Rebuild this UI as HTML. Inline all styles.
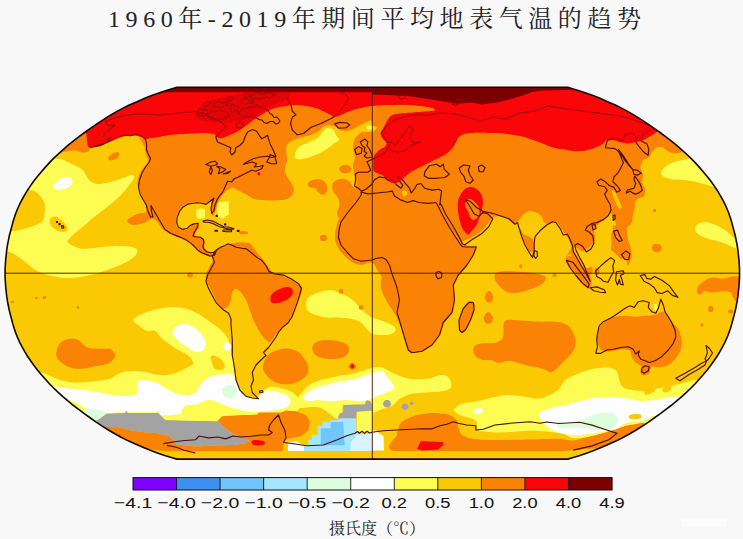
<!DOCTYPE html>
<html><head><meta charset="utf-8"><title>1960年-2019年期间平均地表气温的趋势</title>
<style>html,body{margin:0;padding:0;background:#f8f8f8;}body{width:743px;height:539px;overflow:hidden;font-family:"Liberation Sans",sans-serif;}svg{display:block}</style>
</head><body>
<svg width="743" height="539" viewBox="0 0 743 539">
<rect width="743" height="539" fill="#f8f8f8"/>
<defs><clipPath id="globe"><path d="M567.8,87.3 L572.4,88.7 L579.1,90.7 L585.8,93.0 L593.0,95.6 L600.5,98.6 L608.1,101.9 L615.9,105.3 L623.0,108.9 L629.8,112.6 L636.2,116.4 L642.4,120.3 L648.4,124.3 L654.2,128.4 L660.0,132.5 L665.6,136.7 L671.1,140.9 L676.4,145.2 L681.5,149.6 L686.4,154.0 L691.0,158.4 L695.4,162.9 L699.4,167.4 L703.4,171.9 L707.2,176.5 L710.8,181.1 L714.0,185.6 L717.1,190.2 L719.9,194.8 L722.5,199.5 L724.9,204.1 L727.0,208.7 L728.8,213.3 L730.4,217.9 L731.8,222.5 L733.0,227.1 L734.2,231.7 L735.4,236.3 L736.3,240.9 L737.2,245.5 L737.9,250.2 L738.4,254.8 L738.9,259.4 L739.2,264.0 L739.5,268.6 L739.5,273.2 L739.5,277.8 L739.2,282.4 L738.9,287.0 L738.4,291.6 L737.9,296.2 L737.2,300.9 L736.3,305.5 L735.4,310.1 L734.2,314.7 L733.0,319.3 L731.8,323.9 L730.4,328.5 L728.8,333.1 L727.0,337.7 L724.9,342.3 L722.5,346.9 L719.9,351.6 L717.1,356.2 L714.0,360.8 L710.8,365.3 L707.2,369.9 L703.4,374.5 L699.4,379.0 L695.4,383.5 L691.0,388.0 L686.4,392.4 L681.5,396.8 L676.4,401.2 L671.1,405.5 L665.6,409.7 L660.0,413.9 L654.2,418.0 L648.4,422.1 L642.4,426.1 L636.2,430.0 L629.8,433.8 L623.0,437.5 L615.9,441.1 L608.1,444.5 L600.5,447.8 L593.0,450.8 L585.8,453.4 L579.1,455.7 L572.4,457.7 L567.8,459.1 L176.8,459.1 L172.2,457.7 L165.5,455.7 L158.8,453.4 L151.6,450.8 L144.1,447.8 L136.5,444.5 L128.7,441.1 L121.6,437.5 L114.8,433.8 L108.4,430.0 L102.2,426.1 L96.2,422.1 L90.4,418.0 L84.6,413.9 L79.0,409.7 L73.5,405.5 L68.2,401.2 L63.1,396.8 L58.2,392.4 L53.6,388.0 L49.2,383.5 L45.2,379.0 L41.2,374.5 L37.4,369.9 L33.8,365.3 L30.6,360.8 L27.5,356.2 L24.7,351.6 L22.1,346.9 L19.7,342.3 L17.6,337.7 L15.8,333.1 L14.2,328.5 L12.8,323.9 L11.6,319.3 L10.4,314.7 L9.2,310.1 L8.3,305.5 L7.4,300.9 L6.7,296.2 L6.2,291.6 L5.7,287.0 L5.4,282.4 L5.1,277.8 L5.1,273.2 L5.1,268.6 L5.4,264.0 L5.7,259.4 L6.2,254.8 L6.7,250.2 L7.4,245.5 L8.3,240.9 L9.2,236.3 L10.4,231.7 L11.6,227.1 L12.8,222.5 L14.2,217.9 L15.8,213.3 L17.6,208.7 L19.7,204.1 L22.1,199.5 L24.7,194.8 L27.5,190.2 L30.6,185.6 L33.8,181.1 L37.4,176.5 L41.2,171.9 L45.2,167.4 L49.2,162.9 L53.6,158.4 L58.2,154.0 L63.1,149.6 L68.2,145.2 L73.5,140.9 L79.0,136.7 L84.6,132.5 L90.4,128.4 L96.2,124.3 L102.2,120.3 L108.4,116.4 L114.8,112.6 L121.6,108.9 L128.7,105.3 L136.5,101.9 L144.1,98.6 L151.6,95.6 L158.8,93.0 L165.5,90.7 L172.2,88.7 L176.8,87.3Z"/></clipPath><clipPath id="arc"><use href="#arcticred"/></clipPath></defs>
<g clip-path="url(#globe)">
<rect x="0" y="80" width="743" height="390" fill="#fbc904"/>
<path d="M40.0,156.0C47.5,153.2 51.2,157.9 55.0,158.5C58.8,159.1 60.2,158.8 62.5,159.5C64.8,160.2 66.7,161.5 68.8,162.5C70.9,163.5 72.7,164.2 75.0,165.5C77.3,166.8 80.8,168.1 82.8,170.0C84.8,171.9 85.3,174.8 86.7,176.7C88.1,178.6 89.2,180.5 91.1,181.7C92.9,182.9 95.4,183.6 97.8,183.9C100.2,184.2 102.8,183.8 105.6,183.3C108.4,182.8 111.5,182.0 114.5,181.1C117.5,180.2 120.4,178.8 123.4,177.8C126.4,176.8 130.5,175.1 132.3,175.0C134.1,174.9 134.3,176.0 134.3,177.0C134.3,178.0 133.4,179.5 132.3,181.1C131.2,182.7 129.5,184.6 127.8,186.7C126.1,188.8 124.1,191.4 122.3,193.4C120.5,195.4 118.9,196.9 116.7,198.9C114.5,200.9 111.5,203.5 108.9,205.6C106.3,207.7 103.5,209.8 101.1,211.7C98.7,213.5 96.9,214.8 94.5,216.7C92.1,218.6 88.9,221.5 86.7,223.4C84.5,225.3 83.0,226.3 81.1,227.9C79.1,229.5 76.8,231.3 75.0,233.0C73.2,234.7 71.2,236.5 70.0,238.0C68.8,239.5 66.9,240.6 67.5,242.0C68.1,243.4 71.3,245.2 73.8,246.3C76.3,247.4 79.0,248.5 82.5,248.8C86.0,249.1 90.4,248.4 95.0,248.0C99.6,247.6 104.6,246.6 110.0,246.3C115.4,246.0 123.1,245.9 127.5,246.3C131.9,246.8 134.8,247.7 136.3,249.0C137.8,250.3 137.6,252.2 136.5,254.0C135.4,255.8 132.8,258.2 130.0,260.0C127.2,261.8 123.8,263.3 120.0,265.0C116.2,266.7 111.7,268.5 107.5,270.0C103.3,271.5 99.6,272.6 95.0,273.8C90.4,275.0 85.0,276.3 80.0,277.0C75.0,277.7 70.0,278.2 65.0,278.0C60.0,277.8 54.6,276.6 50.0,275.5C45.4,274.4 41.2,273.2 37.5,271.3C33.8,269.4 30.8,266.3 27.5,263.8C24.2,261.3 20.8,258.4 17.5,256.3C14.2,254.2 11.8,252.9 7.5,251.3C3.2,249.8 -5.4,255.6 -8.0,247.0C-10.6,238.4 -11.0,212.0 -8.0,200.0C-5.0,188.0 2.0,182.3 10.0,175.0C18.0,167.7 32.5,158.8 40.0,156.0Z" fill="#fcfc52"/>
<path d="M661.8,171.3C662.4,169.9 663.7,167.8 665.6,166.3C667.5,164.8 670.1,163.6 673.0,162.5C675.9,161.4 679.8,160.7 683.0,160.0C686.2,159.3 688.3,158.5 692.0,158.5C695.7,158.5 701.2,155.6 705.0,160.0C708.8,164.4 715.3,181.0 715.0,185.0C714.7,189.0 706.7,184.4 703.0,183.8C699.3,183.2 696.3,181.9 693.0,181.3C689.7,180.7 686.3,180.3 683.0,180.0C679.7,179.7 675.9,179.9 673.0,179.5C670.1,179.1 667.5,178.2 665.6,177.5C663.7,176.8 662.4,176.0 661.8,175.0C661.2,174.0 661.2,172.8 661.8,171.3Z" fill="#fcfc52"/>
<path d="M695.2,230.0C695.0,228.1 696.0,225.1 698.2,223.8C700.4,222.6 704.5,221.9 708.2,222.5C712.0,223.1 717.0,225.4 720.7,227.5C724.5,229.6 727.2,231.9 730.7,235.0C734.2,238.1 739.6,243.2 742.0,246.0C744.4,248.8 747.3,252.2 745.0,252.0C742.7,251.8 732.7,246.8 728.2,245.0C723.7,243.2 721.5,242.3 718.2,241.3C714.9,240.3 711.3,239.9 708.2,238.8C705.1,237.8 701.6,236.5 699.4,235.0C697.2,233.5 695.4,231.9 695.2,230.0Z" fill="#fcfc52"/>
<path d="M294.8,157.5C294.2,156.1 295.2,153.2 296.0,151.3C296.8,149.4 297.7,147.8 299.8,146.3C301.9,144.8 305.4,144.0 308.5,142.5C311.6,141.0 316.1,139.4 318.5,137.5C320.9,135.6 321.5,132.9 323.0,131.3C324.5,129.7 325.6,128.2 327.3,128.0C329.1,127.8 332.1,128.8 333.5,130.0C334.9,131.2 335.1,133.3 336.0,135.0C336.9,136.7 339.4,138.5 339.0,140.0C338.6,141.5 335.4,142.3 333.5,143.8C331.6,145.3 329.8,147.1 327.3,148.8C324.8,150.5 321.6,152.4 318.5,153.8C315.4,155.2 311.6,156.6 308.5,157.5C305.4,158.4 302.1,159.5 299.8,159.5C297.5,159.5 295.4,158.9 294.8,157.5Z" fill="#fcfc52"/>
<path d="M196.3,210.0 L200.0,208.5 L205.0,209.0 L205.0,218.0 L199.0,219.0 L196.3,217.0Z" fill="#fcfc52"/>
<path d="M216.5,202.5 L228.8,201.3 L228.8,214.5 L222.5,218.8 L217.5,216.3Z" fill="#fcfc52"/>
<path d="M306.0,305.0C306.0,302.7 306.4,299.6 308.5,297.5C310.6,295.4 314.8,293.8 318.5,292.5C322.2,291.2 327.2,289.8 331.0,290.0C334.8,290.2 337.7,292.3 341.0,293.8C344.3,295.3 348.1,296.7 351.0,298.8C353.9,300.9 356.0,303.8 358.5,306.3C361.0,308.8 363.8,311.9 366.0,313.8C368.2,315.7 369.8,316.5 372.0,317.5C374.2,318.5 376.6,318.9 379.5,320.0C382.4,321.1 386.8,322.3 389.5,323.8C392.2,325.3 395.4,327.1 395.8,328.8C396.2,330.5 394.3,332.8 392.0,333.8C389.7,334.8 385.3,335.1 382.0,335.0C378.7,334.9 374.7,334.7 372.0,333.5C369.3,332.3 367.8,329.8 366.0,328.0C364.2,326.2 363.5,324.0 361.0,322.5C358.5,321.0 354.8,319.6 351.0,318.8C347.2,318.0 342.7,317.7 338.5,317.5C334.3,317.3 329.8,317.9 326.0,317.5C322.2,317.1 318.9,316.0 316.0,315.0C313.1,314.0 310.2,313.0 308.5,311.3C306.8,309.6 306.0,307.3 306.0,305.0Z" fill="#fcfc52"/>
<path d="M133.3,320.0C133.9,318.2 138.4,315.9 141.7,314.2C145.0,312.5 149.1,311.1 153.3,310.0C157.5,308.9 162.2,307.9 166.7,307.5C171.1,307.1 176.1,307.1 180.0,307.5C183.9,307.9 186.7,308.8 190.0,310.0C193.3,311.2 196.7,313.1 200.0,315.0C203.3,316.9 206.7,319.3 210.0,321.7C213.3,324.1 217.2,326.7 220.0,329.2C222.8,331.7 225.0,334.1 226.7,336.7C228.4,339.3 229.2,341.8 230.0,345.0C230.8,348.2 231.0,352.5 231.5,356.0C232.0,359.5 232.6,362.7 233.0,366.0C233.4,369.3 235.3,373.7 234.0,376.0C232.7,378.3 229.8,379.7 225.0,380.0C220.2,380.3 210.3,379.2 205.0,378.0C199.7,376.8 195.5,373.8 193.0,372.5C190.5,371.2 189.9,371.2 190.0,370.0C190.1,368.8 193.0,366.8 193.3,365.0C193.6,363.2 192.8,361.0 191.7,359.2C190.6,357.4 188.9,355.7 186.7,354.2C184.5,352.7 181.4,351.8 178.3,350.0C175.2,348.2 171.4,345.5 168.3,343.3C165.2,341.1 162.2,338.8 160.0,336.7C157.8,334.6 157.2,331.8 155.0,330.8C152.8,329.8 149.5,331.8 146.7,330.8C143.9,329.8 140.5,326.8 138.3,325.0C136.1,323.2 132.7,321.8 133.3,320.0Z" fill="#fcfc52"/>
<path d="M40.0,374.0C38.3,369.0 54.2,378.6 60.0,380.0C65.8,381.4 69.2,382.3 75.0,382.5C80.8,382.7 89.2,381.9 95.0,381.3C100.8,380.7 105.8,380.2 110.0,378.8C114.2,377.4 116.5,374.3 120.0,373.0C123.5,371.7 127.2,371.2 131.3,371.0C135.4,370.8 140.1,371.4 144.5,372.0C148.9,372.6 153.6,374.3 157.7,374.8C161.8,375.3 165.2,375.4 169.0,374.8C172.8,374.2 176.9,372.4 180.3,371.0C183.8,369.6 186.4,367.8 189.7,366.3C193.0,364.8 195.8,363.1 200.0,362.0C204.2,360.9 209.7,360.7 215.0,360.0C220.3,359.3 228.8,356.3 232.0,358.0C235.2,359.7 233.2,366.2 234.0,370.0C234.8,373.8 235.3,377.7 236.5,381.0C237.7,384.3 239.2,387.5 241.0,390.0C242.8,392.5 244.5,394.7 247.0,396.0C249.5,397.3 253.5,398.7 256.0,398.0C258.5,397.3 259.7,393.8 262.0,392.0C264.3,390.2 266.7,387.6 270.0,387.0C273.3,386.4 278.3,387.7 282.0,388.5C285.7,389.3 289.3,390.4 292.0,392.0C294.7,393.6 296.7,395.7 298.0,398.0C299.3,400.3 300.3,403.7 300.0,406.0C299.7,408.3 298.3,410.7 296.0,412.0C293.7,413.3 292.2,413.7 286.0,414.0C279.8,414.3 265.6,413.6 258.5,414.0C251.4,414.4 249.5,415.8 243.5,416.5C237.5,417.2 226.7,416.9 222.3,418.0C217.9,419.1 223.4,422.2 217.3,423.0C211.2,423.8 194.7,423.2 186.0,423.0C177.3,422.8 169.3,422.8 165.0,422.0C160.7,421.2 161.7,419.2 160.0,418.0C158.3,416.8 160.8,415.5 155.0,415.0C149.2,414.5 133.1,414.9 125.0,415.0C116.9,415.1 111.1,414.5 106.3,415.8C101.5,417.1 102.3,424.0 96.3,423.0C90.2,422.0 79.4,418.2 70.0,410.0C60.6,401.8 41.7,379.0 40.0,374.0Z" fill="#fcfc52"/>
<path d="M292.0,404.0C292.0,401.8 297.3,398.0 300.0,395.0C302.7,392.0 305.0,388.3 308.0,386.0C311.0,383.7 314.3,382.3 318.0,381.0C321.7,379.7 326.2,378.9 330.0,378.0C333.8,377.1 336.7,376.3 341.0,375.5C345.3,374.7 350.8,374.2 356.0,373.0C361.2,371.8 367.7,368.9 372.0,368.0C376.3,367.1 378.2,366.5 382.0,367.5C385.8,368.5 389.9,371.9 394.5,373.8C399.1,375.7 404.1,378.0 409.5,378.8C414.9,379.6 421.6,379.4 427.0,378.8C432.4,378.2 438.2,375.0 442.0,375.0C445.8,375.0 448.0,376.7 449.5,378.8C451.0,380.9 452.1,385.4 450.8,387.5C449.6,389.6 446.0,390.5 442.0,391.3C438.0,392.1 432.0,392.1 427.0,392.5C422.0,392.9 416.2,393.0 412.0,393.8C407.8,394.6 404.5,396.2 402.0,397.5C399.5,398.8 398.7,399.9 397.0,401.3C395.3,402.7 394.8,404.6 392.0,406.0C389.2,407.4 383.3,408.8 380.0,410.0C376.7,411.2 375.7,412.7 372.0,413.0C368.3,413.3 361.7,413.2 358.0,412.0C354.3,410.8 352.5,407.0 350.0,406.0C347.5,405.0 344.3,404.7 343.0,406.0C341.7,407.3 343.0,411.8 342.0,414.0C341.0,416.2 339.0,419.0 337.0,419.0C335.0,419.0 332.7,415.8 330.0,414.0C327.3,412.2 324.2,409.2 321.0,408.0C317.8,406.8 314.5,407.0 311.0,407.0C307.5,407.0 303.2,408.5 300.0,408.0C296.8,407.5 292.0,406.2 292.0,404.0Z" fill="#fcfc52"/>
<path d="M454.5,408.8C455.8,407.6 458.2,405.1 462.0,403.8C465.8,402.6 472.0,402.4 477.0,401.3C482.0,400.2 487.0,398.6 492.0,397.5C497.0,396.4 502.0,395.2 507.0,395.0C512.0,394.8 517.0,395.7 522.0,396.3C527.0,396.9 532.8,398.8 537.0,398.8C541.2,398.8 543.5,397.8 547.0,396.3C550.5,394.8 554.9,392.7 558.0,390.0C561.1,387.3 562.2,382.7 565.5,380.0C568.8,377.3 573.4,375.7 578.0,373.8C582.6,371.9 588.0,369.9 593.0,368.8C598.0,367.8 604.0,367.1 608.0,367.5C612.0,367.9 614.9,369.2 616.8,371.3C618.7,373.4 618.3,377.3 619.3,380.0C620.3,382.7 620.7,385.8 623.0,387.5C625.3,389.2 629.2,389.4 633.0,390.0C636.8,390.6 641.1,391.6 645.6,391.3C650.1,391.0 654.3,389.2 660.0,388.0C665.7,386.8 673.3,385.3 680.0,384.0C686.7,382.7 695.7,378.7 700.0,380.0C704.3,381.3 707.7,388.0 706.0,392.0C704.3,396.0 696.3,399.7 690.0,404.0C683.7,408.3 674.7,414.7 668.0,418.0C661.3,421.3 654.5,422.8 650.0,424.0C645.5,425.2 645.1,424.8 641.0,425.5C636.9,426.2 629.8,427.1 625.6,428.0C621.4,428.9 619.4,429.9 615.6,431.0C611.8,432.1 607.6,433.5 603.0,434.5C598.4,435.5 593.0,436.4 588.0,437.0C583.0,437.6 577.0,438.5 573.0,438.0C569.0,437.5 567.9,435.1 563.8,434.0C559.7,432.9 553.6,432.2 548.3,431.7C542.9,431.2 537.2,430.8 531.7,430.8C526.2,430.8 520.6,431.4 515.0,431.7C509.4,432.0 503.0,432.5 498.3,432.5C493.6,432.5 490.0,432.1 486.7,431.7C483.4,431.3 480.0,431.5 478.3,430.0C476.6,428.5 477.5,424.3 476.7,422.5C475.9,420.7 475.2,420.2 473.3,419.2C471.4,418.2 467.5,417.5 465.0,416.7C462.5,415.9 460.1,415.2 458.3,414.2C456.5,413.2 454.8,411.7 454.2,410.8C453.6,409.9 453.2,410.0 454.5,408.8Z" fill="#fcfc52"/>
<path d="M15.0,189.0C20.4,187.3 24.2,189.6 27.5,190.0C30.8,190.4 32.7,190.1 35.0,191.3C37.3,192.6 39.6,195.2 41.3,197.5C43.0,199.8 44.5,202.2 45.0,205.0C45.5,207.8 44.9,211.3 44.5,214.0C44.1,216.7 44.5,219.2 42.5,221.3C40.5,223.4 36.2,224.9 32.5,226.3C28.8,227.8 23.9,229.1 20.0,230.0C16.1,230.9 13.0,231.0 8.8,231.5C4.6,232.0 -2.7,238.2 -5.0,233.0C-7.3,227.8 -8.3,207.3 -5.0,200.0C-1.7,192.7 9.6,190.7 15.0,189.0Z" fill="#fbc904"/>
<path d="M50.0,219.5C50.7,218.1 52.8,216.6 54.5,216.5C56.2,216.4 58.1,217.6 60.0,219.0C61.9,220.4 64.8,223.2 66.0,225.0C67.2,226.8 68.1,228.8 67.5,230.0C66.9,231.2 64.5,232.1 62.5,232.0C60.5,231.9 57.5,230.7 55.5,229.5C53.5,228.3 51.4,226.7 50.5,225.0C49.6,223.3 49.3,220.9 50.0,219.5Z" fill="#fbc904"/>
<path d="M210.8,356.7C211.4,355.7 213.2,355.2 215.0,355.8C216.8,356.4 220.0,358.2 221.7,360.0C223.4,361.8 225.3,365.0 225.0,366.7C224.7,368.4 221.8,369.7 220.0,370.0C218.2,370.3 215.6,369.7 214.2,368.3C212.8,366.9 212.3,363.6 211.7,361.7C211.1,359.8 210.2,357.7 210.8,356.7Z" fill="#fbc904"/>
<path d="M53.8,186.3C53.8,184.9 54.6,182.8 56.3,181.3C58.0,179.8 61.5,178.1 63.8,177.5C66.1,176.9 68.5,176.9 70.0,177.5C71.5,178.1 72.5,179.8 72.5,181.3C72.5,182.8 71.7,184.9 70.0,186.3C68.3,187.7 64.8,189.0 62.5,189.5C60.2,190.0 57.8,190.0 56.3,189.5C54.8,189.0 53.8,187.7 53.8,186.3Z" fill="#fefefe"/>
<path d="M172.5,333.3C171.9,331.1 173.5,329.0 175.0,327.5C176.5,326.0 179.2,324.6 181.7,324.2C184.2,323.8 187.2,323.9 190.0,325.0C192.8,326.1 195.9,328.6 198.3,330.8C200.7,333.0 202.9,335.9 204.2,338.3C205.4,340.7 206.1,342.9 205.8,345.0C205.5,347.1 204.3,349.7 202.5,350.8C200.7,351.9 197.6,352.4 195.0,351.7C192.4,351.0 189.5,348.5 186.7,346.7C183.9,344.9 180.7,343.0 178.3,340.8C175.9,338.6 173.1,335.5 172.5,333.3Z" fill="#fefefe"/>
<path d="M223.5,344.0C224.1,343.1 225.8,342.3 227.0,342.5C228.2,342.7 230.4,343.8 231.0,345.0C231.6,346.2 231.2,348.6 230.5,349.5C229.8,350.4 227.7,350.8 226.5,350.5C225.3,350.2 224.0,349.1 223.5,348.0C223.0,346.9 222.9,344.9 223.5,344.0Z" fill="#fefefe"/>
<path d="M45.0,387.5C43.3,384.8 63.3,388.4 70.0,388.8C76.7,389.2 80.0,389.4 85.0,390.0C90.0,390.6 95.4,391.7 100.0,392.5C104.6,393.3 108.3,394.4 112.5,395.0C116.7,395.6 121.9,395.9 125.0,396.0C128.1,396.1 129.3,396.0 131.3,395.5C133.3,395.0 135.9,395.4 137.0,393.0C138.1,390.6 136.0,383.5 137.9,381.4C139.8,379.3 145.0,380.1 148.3,380.4C151.6,380.7 154.6,381.9 157.7,383.3C160.8,384.7 164.0,387.2 167.1,388.9C170.2,390.6 173.3,392.5 176.5,393.6C179.7,394.7 182.8,395.6 186.0,395.5C189.2,395.4 193.2,394.1 195.4,392.7C197.6,391.3 197.8,388.9 199.1,387.0C200.3,385.1 201.0,383.1 202.9,381.4C204.8,379.7 207.6,377.8 210.4,376.7C213.2,375.6 216.4,375.3 219.9,374.8C223.4,374.3 228.5,372.8 231.2,373.8C233.9,374.8 234.5,378.3 236.0,381.0C237.5,383.7 238.2,387.4 240.0,390.0C241.8,392.6 244.3,395.1 247.0,396.5C249.7,397.9 253.5,399.0 256.0,398.5C258.5,398.0 259.9,394.8 262.0,393.5C264.1,392.2 265.3,390.6 268.5,390.5C271.7,390.4 277.7,391.9 281.0,393.0C284.3,394.1 286.9,395.2 288.5,396.8C290.1,398.4 290.8,400.8 290.5,402.5C290.2,404.2 288.6,405.9 287.0,407.0C285.4,408.1 284.5,408.3 281.0,409.0C277.5,409.7 270.9,410.8 266.0,411.3C261.1,411.8 255.8,412.1 251.9,412.0C248.0,411.9 245.6,411.2 242.5,410.5C239.4,409.8 235.9,408.8 233.1,408.0C230.3,407.2 228.0,406.4 225.5,405.5C223.0,404.6 220.5,403.5 218.0,402.6C215.5,401.7 212.6,400.3 210.4,400.0C208.2,399.7 207.3,400.2 204.8,401.0C202.3,401.8 198.5,403.8 195.4,404.6C192.3,405.4 188.2,404.8 186.0,405.6C183.8,406.4 183.2,408.2 182.2,409.6C181.2,411.0 183.6,413.1 180.0,414.0C176.4,414.9 164.2,415.6 160.5,415.3C156.8,415.1 163.6,413.0 157.7,412.5C151.8,412.0 133.6,412.3 125.0,412.5C116.4,412.7 110.8,412.4 106.3,413.5C101.8,414.6 102.4,420.4 98.0,419.0C93.6,417.6 88.8,410.2 80.0,405.0C71.2,399.8 46.7,390.2 45.0,387.5Z" fill="#fefefe"/>
<path d="M308.5,401.3C306.0,400.9 303.1,399.4 303.5,397.5C303.9,395.6 307.2,392.1 311.0,390.0C314.8,387.9 321.0,386.4 326.0,385.0C331.0,383.6 336.0,382.3 341.0,381.3C346.0,380.3 350.8,380.2 356.0,378.8C361.2,377.4 367.7,374.2 372.0,373.0C376.3,371.8 379.1,370.1 382.0,371.3C384.9,372.5 387.4,377.3 389.5,380.0C391.6,382.7 394.9,385.4 394.5,387.5C394.1,389.6 389.9,391.0 387.0,392.5C384.1,394.0 379.5,395.2 377.0,396.3C374.5,397.4 374.7,398.2 372.0,399.0C369.3,399.8 365.3,401.1 361.0,401.3C356.7,401.5 351.0,400.0 346.0,400.0C341.0,400.0 335.6,401.3 331.0,401.3C326.4,401.3 322.2,400.0 318.5,400.0C314.8,400.0 311.0,401.7 308.5,401.3Z" fill="#fefefe"/>
<path d="M474.2,410.8C474.3,409.8 476.1,408.6 477.5,408.3C478.9,408.0 481.8,408.5 482.5,409.2C483.2,409.9 482.7,411.7 481.7,412.5C480.7,413.3 477.9,414.5 476.7,414.2C475.4,413.9 474.1,411.8 474.2,410.8Z" fill="#fefefe"/>
<path d="M372.0,430.0 L377.0,431.0 L382.0,436.0 L382.0,450.0 L372.0,450.0Z" fill="#fefefe"/>
<path d="M540.0,412.5C541.2,410.7 545.5,410.2 548.3,409.2C551.1,408.2 554.1,407.3 556.7,406.7C559.3,406.1 561.5,406.1 563.8,405.6C566.1,405.1 567.3,404.4 570.5,403.5C573.7,402.6 578.4,401.5 583.0,400.5C587.6,399.5 593.0,398.2 598.0,397.6C603.0,397.1 608.0,397.1 613.0,397.2C618.0,397.3 623.4,397.9 628.0,398.5C632.6,399.1 636.0,400.8 640.6,401.0C645.2,401.2 651.0,400.4 655.6,399.8C660.2,399.2 663.9,397.9 668.1,397.3C672.3,396.7 676.3,396.7 680.6,396.0C684.9,395.3 692.4,391.7 694.0,393.0C695.6,394.3 694.3,399.8 690.0,404.0C685.7,408.2 673.9,416.0 668.0,418.0C662.1,420.0 658.6,415.5 654.4,416.0C650.2,416.5 647.0,419.8 643.0,420.8C639.0,421.8 633.9,421.2 630.6,421.8C627.3,422.4 625.5,423.1 623.0,424.3C620.5,425.6 618.9,428.1 615.6,429.3C612.3,430.6 607.6,431.0 603.0,431.8C598.4,432.6 593.0,433.7 588.0,434.3C583.0,434.9 578.0,435.6 573.0,435.3C568.0,435.0 562.2,433.7 558.0,432.3C553.8,430.9 550.8,429.1 548.0,427.0C545.2,424.9 542.3,422.4 541.0,420.0C539.7,417.6 538.8,414.3 540.0,412.5Z" fill="#fefefe"/>
<path d="M644.5,391.5C645.2,390.3 647.3,388.2 649.0,387.5C650.7,386.8 653.5,386.5 654.5,387.0C655.5,387.5 655.8,389.3 655.0,390.5C654.2,391.7 651.7,393.3 650.0,394.0C648.3,394.7 645.9,394.9 645.0,394.5C644.1,394.1 643.8,392.7 644.5,391.5Z" fill="#fbc904"/>
<path d="M662.0,390.0C662.0,388.9 664.5,386.8 666.0,386.0C667.5,385.2 670.2,384.9 671.0,385.5C671.8,386.1 671.8,388.3 671.0,389.5C670.2,390.7 667.5,392.4 666.0,392.5C664.5,392.6 662.0,391.1 662.0,390.0Z" fill="#fbc904"/>
<path d="M629.3,415.5C630.1,414.8 632.1,414.1 634.0,414.0C635.9,413.9 639.5,414.1 640.6,414.8C641.7,415.5 641.7,417.6 640.6,418.3C639.5,419.1 635.9,419.3 634.0,419.3C632.1,419.3 630.1,419.1 629.3,418.5C628.5,417.9 628.5,416.2 629.3,415.5Z" fill="#fbc904"/>
<path d="M84.0,411.5C84.1,409.6 89.4,408.8 92.5,408.8C95.6,408.8 99.6,410.1 102.5,411.3C105.4,412.6 108.3,414.8 110.0,416.3C111.7,417.8 114.2,419.6 112.5,420.5C110.8,421.4 103.4,421.5 100.0,421.5C96.6,421.5 94.7,422.2 92.0,420.5C89.3,418.8 83.9,413.4 84.0,411.5Z" fill="#dcfedc"/>
<path d="M221.8,389.9C222.4,387.8 227.0,385.6 229.3,385.1C231.7,384.6 234.7,385.7 235.9,387.0C237.2,388.3 237.3,391.0 236.8,392.7C236.3,394.4 235.0,396.6 233.1,397.4C231.2,398.2 227.4,398.6 225.5,397.4C223.6,396.1 221.2,391.9 221.8,389.9Z" fill="#dcfedc"/>
<path d="M558.0,421.5C558.8,420.6 560.5,422.5 563.0,422.8C565.5,423.1 569.7,424.1 573.0,423.5C576.3,422.9 579.7,420.9 583.0,419.5C586.3,418.1 589.2,416.2 593.0,415.0C596.8,413.8 601.8,412.5 605.6,412.5C609.4,412.5 613.5,413.5 615.6,415.0C617.7,416.5 618.9,419.1 618.1,421.3C617.3,423.5 614.0,426.8 610.6,428.2C607.2,429.6 602.6,429.8 598.0,429.8C593.4,429.8 587.7,428.4 583.0,428.0C578.3,427.6 574.2,427.5 570.0,427.5C565.8,427.5 560.0,429.0 558.0,428.0C556.0,427.0 557.2,422.4 558.0,421.5Z" fill="#dcfedc"/>
<path d="M356.7,411.3 L372.3,410.8 L372.3,433.2 L357.0,432.8Z" fill="#fcfc52"/>
<path d="M304.0,451.0 L304.0,445.0 L308.3,445.0 L308.3,440.0 L311.7,440.0 L311.7,435.0 L317.5,435.0 L317.5,425.8 L322.5,425.8 L322.5,421.7 L330.0,421.7 L330.0,420.0 L338.3,420.0 L340.0,418.0 L356.0,418.0 L356.7,432.8 L372.3,433.3 L373.0,451.0Z" fill="#a2e6ff"/>
<path d="M320.8,445.3 L320.8,428.3 L330.8,428.3 L330.8,421.9 L343.3,421.9 L344.2,440.0 L345.0,445.3Z" fill="#72c4fc"/>
<path d="M350.0,451.0 L351.0,442.0 L357.0,434.8 L372.3,433.5 L372.3,451.0Z" fill="#d9f4ff"/>
<path d="M288.0,451.0 L288.0,442.3 L296.7,441.5 L304.0,445.5 L304.0,451.0Z" fill="#fefefe"/>
<path d="M372.5,434.0 L378.0,433.0 L383.5,436.0 L384.0,450.5 L372.5,450.5Z" fill="#fefefe"/>
<path d="M56.0,156.0C56.3,158.1 60.1,153.3 62.0,152.5C63.9,151.7 65.3,151.6 67.5,151.3C69.7,151.0 72.5,150.3 75.0,150.5C77.5,150.7 80.2,152.4 82.5,152.5C84.8,152.6 87.5,152.2 88.8,151.3C90.0,150.4 90.0,148.9 90.0,147.0C90.0,145.1 88.2,143.2 88.5,140.0C88.8,136.8 92.8,131.0 92.0,128.0C91.2,125.0 89.3,120.0 84.0,122.0C78.7,124.0 64.7,134.3 60.0,140.0C55.3,145.7 55.7,153.9 56.0,156.0Z" fill="#fa8205"/>
<path d="M146.0,128.0C151.6,126.8 175.0,125.9 186.0,124.0C197.0,122.1 226.7,115.0 240.0,112.0C253.3,109.0 288.9,99.2 300.0,98.0C311.1,96.8 329.8,101.7 335.0,102.0C340.2,102.3 340.5,101.3 345.0,101.0C349.5,100.7 370.2,97.0 373.5,99.0C376.8,101.0 373.8,115.3 373.0,118.0C372.2,120.7 367.9,121.2 366.4,122.0C364.9,122.8 361.6,124.1 360.0,125.0C358.4,125.9 354.2,128.8 352.6,129.5C351.0,130.2 347.5,131.2 346.0,131.3C344.5,131.4 341.2,130.5 340.0,130.0C338.8,129.5 337.3,127.6 336.0,127.0C334.7,126.4 330.1,124.9 328.5,125.0C326.9,125.1 323.5,126.8 322.3,127.5C321.1,128.2 319.8,130.4 318.5,131.3C317.2,132.2 313.0,134.3 311.0,135.0C309.0,135.7 303.3,136.8 301.0,137.5C298.7,138.2 292.8,140.1 291.0,141.3C289.2,142.5 286.4,145.3 286.0,147.5C285.6,149.7 287.4,157.7 287.3,160.0C287.2,162.3 285.0,165.8 284.8,167.5C284.6,169.2 285.3,173.2 286.0,175.0C286.7,176.8 290.1,180.9 291.0,182.5C291.9,184.1 293.8,187.3 294.0,188.8C294.2,190.3 293.2,193.8 292.3,195.0C291.4,196.2 288.2,198.9 286.0,199.5C283.8,200.1 276.4,200.4 273.5,200.5C270.6,200.6 263.3,200.2 261.0,200.0C258.7,199.8 255.4,199.5 253.5,198.8C251.6,198.1 246.7,194.8 244.8,193.8C242.9,192.8 238.8,190.7 237.3,190.0C235.8,189.3 233.6,187.3 232.3,187.5C231.0,187.7 227.3,190.2 226.0,191.3C224.7,192.4 221.9,195.6 221.0,197.0C220.1,198.4 218.6,201.5 218.0,203.0C217.4,204.5 216.5,208.0 216.0,209.5C215.5,211.0 214.0,214.9 213.5,215.5C213.0,216.1 211.8,215.3 211.5,214.5C211.2,213.7 210.5,209.8 210.5,208.5C210.5,207.2 211.3,204.1 211.5,203.0C211.7,201.9 212.7,199.7 212.5,199.5C212.3,199.3 210.1,200.5 209.4,201.0C208.7,201.5 207.0,203.4 206.1,203.6C205.2,203.8 202.7,202.7 201.7,202.5C200.7,202.3 198.2,202.0 197.2,202.0C196.2,202.0 194.0,202.3 192.8,202.5C191.6,202.7 188.4,203.1 187.2,203.6C186.0,204.1 183.3,205.7 182.3,206.6C181.3,207.5 179.4,210.1 178.7,211.3C178.0,212.5 176.7,215.6 176.4,217.0C176.1,218.4 175.8,221.7 175.9,223.0C176.0,224.3 176.8,227.0 177.6,227.8C178.4,228.6 181.4,230.1 182.6,230.2C183.8,230.3 186.7,229.5 187.6,229.0C188.5,228.5 189.9,226.7 190.6,226.2C191.3,225.7 193.0,224.8 194.0,224.5C195.0,224.2 198.2,223.7 198.8,224.0C199.4,224.3 199.3,226.6 199.0,227.5C198.7,228.4 196.9,230.8 196.5,231.7C196.1,232.6 195.0,234.9 195.5,235.5C196.0,236.1 199.6,236.7 200.6,237.2C201.6,237.7 203.8,238.7 204.3,239.4C204.8,240.1 205.2,242.0 205.2,242.8C205.2,243.6 204.3,245.4 204.3,246.1C204.3,246.8 204.8,248.4 205.2,249.0C205.6,249.6 206.9,250.7 207.5,251.0C208.1,251.3 209.9,252.0 210.6,252.0C211.3,252.0 213.1,251.8 213.9,251.4C214.7,251.0 216.3,249.2 217.2,248.6C218.1,248.0 220.5,246.5 221.3,246.5C222.1,246.5 224.4,247.8 224.0,249.0C223.6,250.2 219.3,255.5 218.0,256.5C216.7,257.5 213.9,257.6 212.5,257.5C211.1,257.4 207.4,255.9 206.1,255.4C204.8,254.9 202.6,254.1 201.7,253.6C200.8,253.1 199.1,252.1 198.3,251.4C197.5,250.7 195.8,248.8 195.0,248.0C194.2,247.2 192.6,245.5 191.7,244.7C190.8,243.9 188.4,242.1 187.2,241.4C186.0,240.7 183.0,239.2 181.7,238.6C180.4,238.0 177.4,236.9 176.1,236.4C174.8,235.9 172.1,234.9 170.6,234.1C169.1,233.3 164.5,230.9 163.0,229.5C161.5,228.1 158.7,223.3 157.5,222.0C156.3,220.7 153.7,218.6 152.5,218.5C151.3,218.4 148.3,220.9 147.0,221.5C145.7,222.1 143.3,223.4 141.7,223.8C140.1,224.2 134.8,225.1 133.3,225.0C131.8,224.9 129.2,223.6 128.5,223.0C127.8,222.4 126.9,220.8 127.5,220.0C128.1,219.2 131.8,216.6 133.3,215.8C134.8,215.0 138.5,213.7 140.0,213.3C141.5,212.9 145.4,213.2 146.0,212.0C146.6,210.8 145.7,205.2 145.0,203.0C144.3,200.8 140.9,195.3 140.0,193.0C139.1,190.7 137.6,185.6 137.5,183.5C137.4,181.4 138.2,176.9 139.0,175.0C139.8,173.1 142.9,168.6 144.0,167.0C145.1,165.4 147.8,162.4 148.0,161.0C148.2,159.6 146.4,156.6 146.0,155.0C145.6,153.4 145.1,148.8 144.5,147.0C143.9,145.2 141.8,141.5 141.0,140.0C140.2,138.5 137.4,135.4 138.0,134.0C138.6,132.6 140.4,129.2 146.0,128.0Z" fill="#fa8205"/>
<path d="M372.0,99.0C375.3,96.1 392.5,98.8 400.0,99.0C407.5,99.2 427.8,98.8 436.0,101.0C444.2,103.2 460.2,114.8 470.0,118.0C479.8,121.2 509.5,125.4 520.0,128.0C530.5,130.6 550.7,138.4 560.0,140.0C569.3,141.6 593.0,142.6 600.0,142.0C607.0,141.4 615.0,135.4 620.0,135.0C625.0,134.6 639.4,138.8 643.0,138.8C646.6,138.8 649.0,135.9 650.5,135.0C652.0,134.1 654.5,132.4 655.5,131.3C656.5,130.2 657.3,125.3 659.0,126.0C660.7,126.7 667.2,134.2 670.0,137.0C672.8,139.8 682.3,148.0 683.0,150.0C683.7,152.0 677.4,153.6 675.6,153.8C673.9,154.0 669.5,152.0 668.0,151.3C666.5,150.6 664.3,147.9 663.0,147.5C661.7,147.1 658.1,146.9 656.8,147.5C655.5,148.1 652.7,151.3 651.8,152.5C650.9,153.7 650.3,156.6 649.3,157.5C648.3,158.4 644.0,158.8 643.0,160.0C642.0,161.2 640.5,165.8 640.5,167.5C640.5,169.2 642.8,173.2 643.0,175.0C643.2,176.8 641.8,180.9 642.0,182.5C642.2,184.1 644.7,187.4 645.0,189.0C645.3,190.6 644.8,194.9 644.2,195.9C643.6,196.9 640.5,197.2 639.5,197.8C638.5,198.4 636.3,199.5 635.7,200.7C635.1,201.9 635.0,206.4 634.7,208.2C634.4,210.0 633.1,214.3 632.8,216.0C632.4,217.7 632.4,221.5 631.7,223.0C631.0,224.5 627.4,226.6 627.0,228.5C626.6,230.4 627.6,237.2 628.0,239.6C628.4,242.0 630.3,247.0 630.7,249.0C631.1,251.0 631.8,254.6 631.5,256.6C631.2,258.6 628.6,265.6 628.0,266.0C627.4,266.4 626.9,261.3 626.0,260.4C625.1,259.5 621.6,259.4 620.3,258.5C619.0,257.6 615.7,253.9 614.6,252.8C613.5,251.7 611.2,250.8 611.0,249.0C610.8,247.2 612.6,240.3 612.8,237.7C613.0,235.1 612.4,227.9 612.8,226.4C613.2,224.9 616.1,225.9 616.2,225.0C616.3,224.1 614.6,220.3 614.0,219.0C613.4,217.7 612.0,214.1 611.0,214.0C610.0,213.9 606.7,216.5 605.2,217.8C603.7,219.1 599.1,223.6 597.8,225.0C596.5,226.4 594.3,228.5 594.0,230.0C593.7,231.5 595.3,235.9 595.3,237.5C595.3,239.1 594.7,242.5 594.0,243.8C593.3,245.1 590.2,248.0 589.0,248.8C587.8,249.6 583.8,251.0 584.0,251.0C584.2,251.0 589.3,249.7 590.5,248.8C591.7,247.9 594.9,242.7 594.0,243.0C593.1,243.3 585.2,250.8 583.0,251.3C580.8,251.8 576.5,246.7 575.0,247.0C573.5,247.3 571.3,252.9 570.3,254.0C569.2,255.1 565.7,256.1 566.0,256.5C566.3,256.9 571.3,256.4 573.0,257.5C574.7,258.6 578.8,264.4 580.5,266.3C582.2,268.2 586.7,271.9 588.0,273.8C589.3,275.7 591.6,281.0 591.8,282.6C592.0,284.2 590.3,287.5 589.3,287.6C588.3,287.7 584.6,285.3 583.0,283.8C581.4,282.3 577.1,276.9 575.5,275.0C573.9,273.1 570.5,269.1 569.3,267.5C568.1,265.9 565.7,262.9 565.5,261.3C565.3,259.7 567.3,255.6 568.0,254.0C568.7,252.4 571.4,249.1 571.5,247.5C571.6,245.9 569.9,241.8 569.0,240.0C568.1,238.2 565.2,234.2 564.0,232.5C562.8,230.8 560.2,226.3 559.0,225.0C557.8,223.7 555.2,221.4 554.0,221.3C552.8,221.2 550.2,223.7 549.0,223.8C547.8,223.9 544.9,223.4 544.0,222.5C543.1,221.6 542.4,217.5 541.5,216.3C540.6,215.1 538.0,213.1 536.5,212.5C535.0,211.9 530.6,211.0 529.0,211.3C527.4,211.6 524.0,214.0 522.8,215.0C521.6,216.0 520.0,219.0 519.0,220.0C518.0,221.0 515.2,223.8 514.0,223.8C512.8,223.8 510.5,220.9 509.0,220.0C507.5,219.1 503.4,216.6 501.5,216.3C499.6,216.0 494.4,216.6 492.8,217.5C491.2,218.4 489.1,222.2 487.8,223.8C486.5,225.4 483.4,229.7 481.5,231.3C479.6,232.9 473.8,236.2 471.5,237.5C469.2,238.8 461.9,241.5 461.5,242.5C461.1,243.5 466.6,245.6 468.3,246.0C470.1,246.4 475.8,245.1 476.5,246.0C477.2,246.9 475.1,251.8 474.0,254.0C472.9,256.2 469.2,262.1 467.5,264.5C465.8,266.9 460.6,272.1 459.0,274.5C457.4,276.9 454.5,282.0 454.0,285.0C453.5,288.0 455.2,296.8 455.0,300.0C454.8,303.2 453.8,309.9 452.5,312.5C451.2,315.1 445.5,319.9 444.0,322.5C442.5,325.1 441.3,332.4 440.0,335.0C438.7,337.6 434.6,343.1 432.5,345.0C430.4,346.9 424.4,350.6 422.0,351.5C419.6,352.4 413.7,353.2 412.0,353.0C410.3,352.8 408.4,351.8 407.5,350.0C406.6,348.2 404.9,340.4 404.0,337.5C403.1,334.6 401.0,327.6 400.0,325.0C399.0,322.4 396.8,317.3 395.5,315.0C394.2,312.7 390.4,307.3 389.0,305.0C387.6,302.7 384.5,297.3 383.5,295.0C382.5,292.7 380.7,287.1 380.5,285.0C380.3,282.9 381.8,278.6 381.5,277.0C381.2,275.4 379.1,272.7 378.0,271.0C376.9,269.3 374.0,263.2 372.0,262.5C370.0,261.8 363.3,265.0 361.0,265.0C358.7,265.0 354.2,263.4 352.3,262.3C350.4,261.2 346.4,257.6 344.8,256.0C343.2,254.4 339.6,250.4 338.5,248.5C337.4,246.6 335.4,242.2 335.0,240.0C334.6,237.8 335.1,232.3 335.5,230.0C335.9,227.7 337.6,222.1 338.5,220.0C339.4,217.9 342.0,213.9 343.0,212.0C344.0,210.1 346.9,205.3 347.3,203.5C347.7,201.7 346.1,198.1 346.5,196.5C346.9,194.9 350.1,191.6 350.5,190.0C350.9,188.4 349.2,182.6 349.8,182.5C350.4,182.4 354.7,189.2 355.5,189.0C356.3,188.8 356.7,182.6 356.5,181.0C356.3,179.4 354.4,176.9 354.0,175.0C353.6,173.1 352.9,167.0 353.0,165.0C353.1,163.0 354.8,159.5 354.8,157.5C354.8,155.5 353.0,149.7 353.0,147.5C353.0,145.3 353.9,140.6 354.8,138.8C355.7,137.1 359.5,133.3 361.0,132.5C362.5,131.7 366.5,132.2 368.0,132.0C369.5,131.8 372.9,131.6 374.0,131.0C375.1,130.4 377.2,127.8 377.0,127.0C376.8,126.2 372.6,127.3 372.0,124.0C371.4,120.7 368.7,101.9 372.0,99.0Z" fill="#fa8205"/>
<path d="M521.0,229.0C521.5,229.5 521.9,232.9 523.3,234.2C524.7,235.5 527.5,235.7 529.2,236.7C530.9,237.7 532.5,238.3 533.3,240.0C534.1,241.7 534.1,244.7 533.9,246.7C533.7,248.7 533.0,251.3 532.2,252.0C531.4,252.7 530.4,252.4 529.2,251.0C528.1,249.6 526.4,245.6 525.3,243.5C524.2,241.4 523.4,240.4 522.5,238.3C521.6,236.2 520.2,232.6 520.0,231.0C519.8,229.4 520.5,228.5 521.0,229.0Z" fill="#fa8205"/>
<path d="M572.0,246.0C572.4,246.3 573.7,250.3 574.5,252.0C575.3,253.7 577.0,256.8 578.0,258.5C579.0,260.2 580.9,263.7 582.0,265.0C583.1,266.3 585.2,268.1 586.5,268.3C587.8,268.5 590.9,266.1 591.7,266.5C592.5,266.9 593.0,269.8 592.8,271.0C592.6,272.2 590.5,274.1 590.3,275.5C590.1,276.9 591.5,279.9 591.5,281.5C591.5,283.1 590.9,286.8 590.0,287.5C589.1,288.2 586.3,287.3 585.0,286.5C583.7,285.7 581.3,283.3 580.0,281.7C578.7,280.1 576.3,276.2 575.0,274.2C573.7,272.2 571.2,268.7 570.0,266.7C568.8,264.7 566.1,260.9 565.8,259.5C565.5,258.1 566.8,257.0 567.5,256.5C568.2,256.0 570.5,256.9 571.0,256.0C571.5,255.1 571.4,251.3 571.5,250.0C571.6,248.7 571.6,245.7 572.0,246.0Z" fill="#fa8205"/>
<path d="M611.8,232.5C612.8,230.4 615.7,229.2 618.0,230.0C620.3,230.8 623.5,234.6 625.6,237.5C627.7,240.4 630.0,244.2 630.6,247.5C631.2,250.8 630.6,256.2 629.3,257.5C628.0,258.8 625.1,256.4 623.0,255.0C620.9,253.6 618.7,250.9 616.8,248.8C614.9,246.7 612.6,245.2 611.8,242.5C611.0,239.8 610.8,234.6 611.8,232.5Z" fill="#fa8205"/>
<path d="M307.8,183.8C308.2,182.6 310.1,180.7 312.3,180.0C314.5,179.3 318.7,178.9 321.0,179.5C323.3,180.1 324.9,182.1 326.0,183.8C327.1,185.6 327.7,188.1 327.3,190.0C326.9,191.9 325.0,194.6 323.5,195.0C322.0,195.4 319.9,193.7 318.5,192.5C317.1,191.3 316.2,188.8 314.8,188.0C313.4,187.2 311.0,188.2 309.8,187.5C308.6,186.8 307.4,185.1 307.8,183.8Z" fill="#fa8205"/>
<path d="M332.3,185.0C332.7,183.1 334.1,181.5 336.0,180.5C337.9,179.5 341.2,178.5 343.5,178.8C345.8,179.1 348.6,180.6 349.8,182.5C351.0,184.4 351.0,187.8 350.5,190.0C350.0,192.2 347.3,193.8 347.0,196.0C346.7,198.2 347.7,200.8 348.5,203.0C349.3,205.2 352.2,207.2 352.0,209.0C351.8,210.8 349.0,212.3 347.0,214.0C345.0,215.7 341.7,219.2 340.0,219.0C338.3,218.8 337.1,215.3 337.0,213.0C336.9,210.7 339.3,207.5 339.5,205.0C339.7,202.5 339.0,200.2 338.0,198.0C337.0,195.8 334.4,194.2 333.5,192.0C332.6,189.8 331.9,186.9 332.3,185.0Z" fill="#fa8205"/>
<path d="M339.0,168.8C339.0,167.6 340.7,166.1 342.3,165.5C343.9,164.9 347.0,164.9 348.5,165.5C350.0,166.1 351.3,167.6 351.5,168.8C351.7,170.0 351.3,171.8 349.8,172.5C348.3,173.2 344.1,173.6 342.3,173.0C340.5,172.4 339.0,170.1 339.0,168.8Z" fill="#fa8205"/>
<path d="M108.3,157.5C108.8,156.3 111.6,154.1 113.3,153.3C115.0,152.5 117.3,152.1 118.3,152.5C119.3,152.9 119.8,154.7 119.2,155.8C118.7,156.9 116.5,158.4 115.0,159.2C113.5,159.9 111.1,160.6 110.0,160.3C108.9,160.0 107.8,158.7 108.3,157.5Z" fill="#fa8205"/>
<path d="M214.8,253.8C215.8,252.3 218.5,251.0 220.0,250.0C221.5,249.0 224.4,247.2 226.0,246.3C227.6,245.4 230.1,244.0 232.0,243.5C233.9,243.0 237.6,242.5 240.0,242.5C242.4,242.5 247.9,242.3 250.0,243.5C252.1,244.7 254.2,249.1 256.0,251.3C257.8,253.5 261.7,257.7 263.5,260.0C265.3,262.3 268.5,267.0 269.8,268.8C271.1,270.6 271.3,272.6 273.5,273.8C275.7,275.0 283.0,276.3 286.0,277.5C289.0,278.7 293.8,281.2 296.0,282.5C298.2,283.8 301.8,285.5 302.3,287.5C302.8,289.5 300.8,294.8 299.8,297.5C298.8,300.2 296.0,304.8 294.8,307.5C293.6,310.2 292.2,315.2 291.0,317.5C289.8,319.8 287.7,323.2 286.0,325.0C284.3,326.8 280.2,329.6 278.5,331.3C276.8,333.0 274.7,336.0 273.5,337.5C272.3,339.0 271.1,342.5 269.8,342.5C268.5,342.5 265.0,339.2 263.5,337.5C262.0,335.8 259.8,332.3 258.5,330.0C257.2,327.7 254.7,322.7 253.5,320.0C252.3,317.3 250.8,312.7 249.8,310.0C248.8,307.3 247.2,302.3 246.0,300.0C244.8,297.7 242.3,294.0 241.0,292.5C239.7,291.0 237.2,288.8 236.0,288.8C234.8,288.8 233.0,291.0 232.3,292.5C231.6,294.0 231.5,298.2 231.0,300.0C230.5,301.8 229.5,305.1 228.5,306.3C227.5,307.5 224.8,309.1 223.5,308.8C222.2,308.5 219.7,305.3 218.5,303.8C217.3,302.3 215.8,299.3 214.8,297.5C213.8,295.7 212.0,292.0 211.0,290.0C210.0,288.0 208.0,284.3 207.3,282.5C206.6,280.7 205.3,278.1 205.5,276.3C205.7,274.5 207.6,270.8 208.5,268.8C209.4,266.8 211.5,263.3 212.3,261.3C213.1,259.3 213.8,255.3 214.8,253.8Z" fill="#fa8205"/>
<path d="M263.0,366.0C263.3,363.7 264.4,359.8 266.0,357.5C267.6,355.2 269.0,353.5 272.3,352.0C275.6,350.5 281.6,348.6 286.0,348.6C290.4,348.6 295.2,349.9 298.5,352.0C301.8,354.1 304.3,358.5 306.0,361.5C307.7,364.5 308.7,367.3 308.5,370.0C308.3,372.7 306.9,375.4 304.8,377.5C302.7,379.6 299.1,381.3 296.0,382.5C292.9,383.7 289.3,384.5 286.0,384.5C282.7,384.5 278.9,383.7 276.0,382.5C273.1,381.3 270.5,379.3 268.5,377.5C266.5,375.7 264.9,373.4 264.0,371.5C263.1,369.6 262.7,368.3 263.0,366.0Z" fill="#fa8205"/>
<path d="M312.3,347.5C312.6,345.6 313.7,343.8 316.0,342.5C318.3,341.2 322.2,340.2 326.0,340.0C329.8,339.8 334.9,340.5 338.5,341.3C342.1,342.1 345.6,343.3 347.3,345.0C349.0,346.7 349.2,349.4 348.8,351.3C348.4,353.2 347.3,355.2 345.0,356.5C342.7,357.8 338.8,358.8 335.0,359.0C331.2,359.2 325.4,358.8 322.0,358.0C318.6,357.2 316.1,355.8 314.5,354.0C312.9,352.2 312.1,349.4 312.3,347.5Z" fill="#fa8205"/>
<path d="M56.3,354.8C56.1,352.1 57.3,347.5 58.8,345.0C60.2,342.5 62.3,341.0 65.0,340.0C67.7,339.0 72.3,338.4 75.0,338.8C77.7,339.2 79.2,341.1 81.3,342.5C83.4,343.9 84.4,346.4 87.5,347.5C90.6,348.6 96.2,348.6 100.0,348.8C103.8,349.0 107.5,347.8 110.0,348.8C112.5,349.8 114.4,353.1 115.0,354.8C115.6,356.5 115.0,357.3 113.8,358.8C112.5,360.3 110.6,362.6 107.5,363.8C104.4,365.1 99.2,365.5 95.0,366.3C90.8,367.1 86.7,368.6 82.5,368.8C78.3,369.0 73.8,368.8 70.0,367.5C66.2,366.2 62.3,363.4 60.0,361.3C57.7,359.2 56.5,357.5 56.3,354.8Z" fill="#fa8205"/>
<path d="M459.5,330.0C459.0,327.9 458.4,323.8 459.0,320.0C459.6,316.2 461.6,310.6 463.3,307.5C465.1,304.4 467.7,302.1 469.5,301.3C471.3,300.5 473.2,301.1 474.0,302.5C474.8,303.9 475.0,307.1 474.5,310.0C474.0,312.9 472.2,316.7 470.8,320.0C469.4,323.3 467.3,327.9 465.8,330.0C464.3,332.1 463.1,332.8 462.0,332.8C460.9,332.8 460.0,332.1 459.5,330.0Z" fill="#fa8205"/>
<path d="M494.5,276.3C494.7,274.8 494.9,273.3 497.0,272.5C499.1,271.7 502.8,271.4 507.0,271.3C511.2,271.2 517.0,271.6 522.0,272.0C527.0,272.4 533.0,272.9 537.0,273.8C541.0,274.7 545.0,275.8 545.8,277.5C546.6,279.2 544.3,281.9 542.0,283.8C539.7,285.7 535.8,287.4 532.0,288.8C528.2,290.2 523.5,291.9 519.5,292.5C515.5,293.1 511.4,293.3 508.3,292.5C505.2,291.7 502.9,289.4 500.8,287.5C498.7,285.6 496.9,283.2 495.8,281.3C494.8,279.4 494.3,277.8 494.5,276.3Z" fill="#fa8205"/>
<path d="M485.0,296.3C485.3,294.4 487.7,290.8 489.0,290.8C490.3,290.8 492.6,294.5 493.0,296.3C493.4,298.1 492.5,300.6 491.5,301.5C490.5,302.4 488.1,302.9 487.0,302.0C485.9,301.1 484.7,298.2 485.0,296.3Z" fill="#fa8205"/>
<path d="M483.8,317.5C484.2,315.6 486.8,312.0 488.3,312.0C489.8,312.0 492.4,315.7 492.8,317.5C493.2,319.3 492.1,322.0 491.0,323.0C489.9,324.0 487.2,324.2 486.0,323.3C484.8,322.4 483.4,319.4 483.8,317.5Z" fill="#fa8205"/>
<path d="M473.5,348.3C473.8,347.3 474.8,345.7 476.0,345.0C477.2,344.3 480.3,343.6 482.7,343.3C485.1,343.0 491.8,343.5 494.3,343.0C496.8,342.5 500.6,340.5 501.8,339.2C503.0,337.9 503.3,335.2 503.5,333.3C503.7,331.4 503.3,326.7 503.5,325.0C503.7,323.3 504.2,321.5 505.2,320.8C506.2,320.1 508.5,319.7 511.0,319.7C513.5,319.7 520.3,320.5 524.3,320.8C528.3,321.1 536.8,321.6 541.0,321.7C545.2,321.8 552.7,321.4 556.0,321.7C559.3,322.0 563.9,323.1 566.0,324.2C568.1,325.3 570.6,328.1 571.8,330.0C573.0,331.9 574.7,336.1 575.2,338.3C575.7,340.5 575.9,344.5 575.2,346.7C574.5,348.9 571.9,352.9 570.2,355.0C568.5,357.1 564.6,360.6 562.7,362.5C560.8,364.4 557.6,367.9 556.0,369.2C554.4,370.5 552.3,372.4 551.0,372.5C549.7,372.6 547.8,370.7 546.0,370.0C544.2,369.3 540.1,368.1 537.7,367.5C535.3,366.9 530.2,366.4 527.7,365.8C525.2,365.2 521.8,364.0 519.3,363.3C516.8,362.6 511.6,360.9 509.3,360.8C507.0,360.7 503.5,362.3 501.8,362.5C500.1,362.7 498.2,362.8 496.8,362.5C495.4,362.2 492.9,360.3 491.0,360.0C489.1,359.7 484.7,360.4 482.7,360.0C480.7,359.6 477.2,357.7 476.0,356.7C474.8,355.7 473.8,353.6 473.5,352.5C473.2,351.4 473.2,349.3 473.5,348.3Z" fill="#fa8205"/>
<path d="M597.0,334.0C597.4,332.2 598.7,328.6 600.0,326.7C601.3,324.8 604.7,321.3 606.7,320.0C608.7,318.7 612.3,317.3 615.0,316.7C617.7,316.1 624.0,315.8 626.7,315.8C629.4,315.8 632.6,316.7 635.0,316.7C637.4,316.7 642.3,316.0 645.0,315.8C647.7,315.6 652.8,315.5 655.0,315.0C657.2,314.5 660.2,312.0 661.7,311.7C663.2,311.4 664.5,311.5 666.0,313.0C667.5,314.5 671.5,320.9 673.3,323.3C675.1,325.7 678.1,328.6 679.2,330.8C680.3,333.0 681.5,337.4 681.7,340.0C681.9,342.6 681.6,347.6 680.8,350.0C680.0,352.4 677.5,356.3 675.8,358.3C674.1,360.3 670.4,363.8 668.3,365.0C666.2,366.2 662.2,367.3 660.0,367.5C657.8,367.7 653.1,365.9 651.7,366.7C650.3,367.5 650.6,372.2 649.5,373.3C648.4,374.4 644.6,375.5 643.3,375.3C642.0,375.1 640.2,372.8 640.0,371.7C639.8,370.6 642.4,368.0 641.7,366.7C641.0,365.4 636.3,363.0 635.0,361.7C633.7,360.4 632.4,358.2 631.7,356.7C631.0,355.2 631.3,351.5 630.0,350.5C628.7,349.5 623.9,349.4 621.7,349.5C619.5,349.6 615.3,350.7 613.3,351.0C611.3,351.3 608.1,351.9 606.5,351.8C604.9,351.7 602.1,350.9 601.0,350.0C599.9,349.1 599.0,346.3 598.5,345.0C598.0,343.7 597.2,341.5 597.0,340.0C596.8,338.5 596.6,335.8 597.0,334.0Z" fill="#fa8205"/>
<path d="M697.0,292.6C696.6,291.2 696.8,288.4 698.2,286.3C699.7,284.2 703.2,281.4 705.7,280.0C708.2,278.6 710.3,277.8 713.2,277.6C716.1,277.4 719.9,279.0 723.2,278.8C726.5,278.6 730.1,276.4 733.2,276.3C736.3,276.2 740.0,275.7 742.0,278.0C744.0,280.3 745.3,285.8 745.0,290.0C744.7,294.2 741.6,301.2 740.0,303.0C738.4,304.8 736.6,301.9 735.5,301.0C734.4,300.1 734.0,299.0 733.2,297.6C732.4,296.2 732.4,293.7 730.7,292.6C729.0,291.6 726.1,291.3 723.2,291.3C720.3,291.3 716.3,292.6 713.2,292.6C710.1,292.6 706.5,291.0 704.4,291.3C702.3,291.6 701.9,294.4 700.7,294.6C699.5,294.8 697.4,294.0 697.0,292.6Z" fill="#fa8205"/>
<path d="M653.5,244.3C654.3,243.6 655.1,243.6 656.4,243.8C657.6,244.0 660.1,244.6 661.0,245.5C661.9,246.4 661.9,248.4 661.5,249.5C661.1,250.6 659.8,251.7 658.5,252.0C657.2,252.3 655.1,252.2 654.0,251.5C652.9,250.8 651.9,249.2 651.8,248.0C651.7,246.8 652.7,245.0 653.5,244.3Z" fill="#fa8205"/>
<path d="M338.8,291.3C338.8,289.7 339.4,289.1 341.0,289.1C342.6,289.1 343.2,289.7 343.2,291.3C343.2,292.9 342.6,293.5 341.0,293.5C339.4,293.5 338.8,292.9 338.8,291.3Z" fill="#fa8205"/>
<path d="M358.8,307.5C358.8,305.9 359.4,305.3 361.0,305.3C362.6,305.3 363.2,305.9 363.2,307.5C363.2,309.1 362.6,309.7 361.0,309.7C359.4,309.7 358.8,309.1 358.8,307.5Z" fill="#fa8205"/>
<path d="M320.0,238.0C320.0,235.7 320.9,234.8 323.5,234.8C326.1,234.8 327.0,235.7 327.0,238.0C327.0,240.3 326.1,241.2 323.5,241.2C320.9,241.2 320.0,240.3 320.0,238.0Z" fill="#fa8205"/>
<path d="M653.0,210.5C653.0,209.3 653.4,208.9 654.6,208.9C655.8,208.9 656.2,209.3 656.2,210.5C656.2,211.7 655.8,212.1 654.6,212.1C653.4,212.1 653.0,211.7 653.0,210.5Z" fill="#fa8205"/>
<path d="M35.0,298.0C35.0,297.0 35.3,296.7 36.3,296.7C37.3,296.7 37.6,297.0 37.6,298.0C37.6,299.0 37.3,299.3 36.3,299.3C35.3,299.3 35.0,299.0 35.0,298.0Z" fill="#fa8205"/>
<path d="M42.9,297.5C42.9,296.3 43.3,295.9 44.5,295.9C45.7,295.9 46.1,296.3 46.1,297.5C46.1,298.7 45.7,299.1 44.5,299.1C43.3,299.1 42.9,298.7 42.9,297.5Z" fill="#fa8205"/>
<path d="M76.7,307.5C76.7,306.5 77.0,306.2 78.0,306.2C79.0,306.2 79.3,306.5 79.3,307.5C79.3,308.5 79.0,308.8 78.0,308.8C77.0,308.8 76.7,308.5 76.7,307.5Z" fill="#fa8205"/>
<path d="M11.2,302.0C11.2,301.0 11.5,300.7 12.5,300.7C13.5,300.7 13.8,301.0 13.8,302.0C13.8,303.0 13.5,303.3 12.5,303.3C11.5,303.3 11.2,303.0 11.2,302.0Z" fill="#fa8205"/>
<path d="M187.2,275.0C187.2,273.2 187.9,272.6 190.0,272.6C192.1,272.6 192.8,273.2 192.8,275.0C192.8,276.8 192.1,277.4 190.0,277.4C187.9,277.4 187.2,276.8 187.2,275.0Z" fill="#fa8205"/>
<path d="M239.0,232.8C239.0,231.6 240.2,231.2 243.5,231.2C246.8,231.2 248.0,231.6 248.0,232.8C248.0,234.0 246.8,234.4 243.5,234.4C240.2,234.4 239.0,234.0 239.0,232.8Z" fill="#fa8205"/>
<path d="M708.2,308.9C708.2,306.6 708.9,305.7 710.7,305.7C712.5,305.7 713.2,306.6 713.2,308.9C713.2,311.2 712.5,312.1 710.7,312.1C708.9,312.1 708.2,311.2 708.2,308.9Z" fill="#fa8205"/>
<path d="M728.2,311.4C728.2,309.9 728.9,309.4 730.7,309.4C732.5,309.4 733.2,309.9 733.2,311.4C733.2,312.9 732.5,313.4 730.7,313.4C728.9,313.4 728.2,312.9 728.2,311.4Z" fill="#fa8205"/>
<path d="M700.5,325.1C700.5,324.0 700.9,323.6 702.0,323.6C703.1,323.6 703.5,324.0 703.5,325.1C703.5,326.2 703.1,326.6 702.0,326.6C700.9,326.6 700.5,326.2 700.5,325.1Z" fill="#fa8205"/>
<path d="M366.6,127.6C366.6,126.1 367.5,125.5 370.0,125.5C372.5,125.5 373.4,126.1 373.4,127.6C373.4,129.1 372.5,129.7 370.0,129.7C367.5,129.7 366.6,129.1 366.6,127.6Z" fill="#fcfc52"/>
<path d="M594.4,271.5C594.4,268.9 595.1,268.0 597.0,268.0C598.9,268.0 599.6,268.9 599.6,271.5C599.6,274.1 598.9,275.0 597.0,275.0C595.1,275.0 594.4,274.1 594.4,271.5Z" fill="#fa8205"/>
<path d="M653.6,304.5 L656.8,303.6 L657.5,308.3 L655.8,311.0 L653.8,308.5Z" fill="#fcfc52"/>
<path d="M519.3,266.3C519.3,264.8 519.7,264.3 520.8,264.3C521.9,264.3 522.3,264.8 522.3,266.3C522.3,267.8 521.9,268.3 520.8,268.3C519.7,268.3 519.3,267.8 519.3,266.3Z" fill="#fa8205"/>
<path d="M552.5,275.0C552.5,273.5 553.0,273.0 554.5,273.0C556.0,273.0 556.5,273.5 556.5,275.0C556.5,276.5 556.0,277.0 554.5,277.0C553.0,277.0 552.5,276.5 552.5,275.0Z" fill="#fa8205"/>
<path d="M95.0,420.0 L120.0,427.5 L131.3,430.4 L144.5,432.3 L157.7,433.2 L169.0,436.0 L172.8,439.8 L176.5,444.5 L195.4,446.4 L214.2,445.4 L233.1,445.0 L244.4,443.6 L250.0,440.7 L283.5,441.3 L283.0,452.0 L170.0,452.0 L120.0,445.0Z" fill="#fa8205"/>
<path d="M217.3,421.3 L222.3,416.3 L243.5,415.0 L257.3,415.0 L258.5,412.5 L281.0,412.5 L286.0,410.5 L296.0,411.3 L306.0,415.0 L309.8,421.3 L308.5,430.0 L301.0,436.3 L288.5,438.8 L283.5,441.3 L282.3,451.3 L250.0,451.3 L250.0,440.7 L242.5,437.9 L233.1,434.1 L225.5,428.5 L219.9,422.8Z" fill="#fa8205"/>
<path d="M395.8,451.3C379.7,449.6 396.6,437.6 397.0,435.0C397.4,432.4 398.8,426.5 399.5,425.0C400.2,423.5 402.8,421.0 404.5,420.0C406.2,419.0 414.2,415.7 417.0,415.0C419.8,414.3 429.2,413.1 432.0,413.0C434.8,412.9 442.5,413.5 444.5,413.8C446.5,414.1 450.8,415.6 452.0,416.3C453.2,417.0 456.4,419.4 457.0,420.5C457.6,421.6 457.8,426.1 458.3,427.5C458.8,428.9 460.6,433.9 462.0,435.0C463.4,436.1 469.5,438.3 472.0,438.8C474.5,439.3 483.5,439.9 487.0,440.0C490.5,440.1 502.5,440.1 507.0,440.0C511.5,439.9 526.9,439.6 532.0,439.5C537.1,439.4 553.9,438.7 558.0,438.8C562.1,438.9 570.0,440.7 573.0,440.5C576.0,440.3 585.0,437.7 588.0,437.0C591.0,436.3 600.2,433.9 603.0,433.2C605.8,432.4 613.3,430.2 615.6,429.5C617.9,428.8 623.9,426.3 625.6,425.8C627.3,425.3 631.1,424.7 633.0,424.5C634.9,424.3 643.3,421.9 645.0,423.5C646.7,425.1 654.5,436.9 650.0,440.0C645.5,443.1 609.2,453.8 600.0,455.0C590.8,456.2 578.4,452.4 558.0,452.0C537.6,451.6 411.9,453.0 395.8,451.3Z" fill="#fa8205"/>
<path d="M402.0,191.5C402.2,190.6 403.7,190.4 404.5,190.5C405.3,190.6 406.7,191.2 407.0,192.0C407.3,192.8 407.1,194.8 406.5,195.5C405.9,196.2 404.2,196.7 403.5,196.0C402.8,195.3 401.8,192.4 402.0,191.5Z" fill="#fbc904"/>
<path d="M612.0,192.5C611.5,190.0 613.0,189.4 614.5,191.5C616.0,193.6 620.0,202.2 621.0,205.0C622.0,207.8 621.1,208.2 620.5,208.5C619.9,208.8 618.9,209.2 617.5,206.5C616.1,203.8 612.5,195.0 612.0,192.5Z" fill="#fbc904"/>
<path id="arcticred" d="M80.0,128.0C78.6,131.4 85.5,132.2 86.3,133.8C87.0,135.4 87.2,142.4 87.5,143.8C87.8,145.2 88.2,147.4 89.5,147.5C90.8,147.6 98.0,145.1 100.0,144.5C102.0,143.9 108.0,142.0 110.0,141.3C112.0,140.6 118.0,138.1 120.0,137.5C122.0,136.9 128.0,135.1 130.0,135.0C132.0,134.9 138.5,135.9 140.0,136.3C141.5,136.7 143.5,138.7 145.0,138.8C146.5,138.9 152.5,137.9 155.0,137.5C157.5,137.1 166.9,135.4 170.0,135.0C173.1,134.6 182.9,134.0 186.0,133.8C189.1,133.6 198.2,133.0 201.0,133.0C203.8,133.0 212.0,133.5 213.5,133.8C215.0,134.1 215.4,135.4 216.0,135.8C216.6,136.2 218.2,138.1 219.0,138.3C219.8,138.5 222.6,138.0 224.0,137.5C225.4,137.0 231.7,134.2 233.3,133.5C234.9,132.8 238.7,130.8 240.0,130.0C241.3,129.2 245.4,126.0 246.7,125.0C248.0,124.0 251.6,121.2 253.3,120.0C255.0,118.8 261.8,114.5 263.8,113.3C265.8,112.1 271.5,109.2 273.5,108.5C275.5,107.8 281.5,106.6 283.5,106.3C285.5,106.0 291.5,105.1 293.5,105.0C295.5,104.9 301.2,105.2 303.5,105.5C305.8,105.8 313.8,107.3 316.0,108.0C318.2,108.7 324.2,111.7 326.0,112.5C327.8,113.3 332.2,115.9 333.5,116.3C334.8,116.7 337.2,116.7 338.5,116.3C339.8,115.9 344.2,113.2 346.0,112.5C347.8,111.8 353.4,109.7 356.0,109.0C358.6,108.3 369.4,106.2 372.5,105.8C375.6,105.4 383.6,105.1 386.7,105.0C389.8,104.9 400.0,104.6 403.3,104.7C406.6,104.8 417.0,105.4 420.0,105.8C423.0,106.2 431.9,107.8 433.3,108.3C434.7,108.8 435.5,110.4 434.2,110.8C432.9,111.2 423.1,111.8 420.0,112.0C416.9,112.2 405.8,113.1 403.3,113.3C400.8,113.5 396.3,113.9 395.0,114.2C393.7,114.5 390.8,116.0 390.0,116.7C389.2,117.5 387.4,120.5 386.7,121.7C386.0,122.9 383.9,127.1 383.3,128.3C382.7,129.5 380.9,132.3 380.8,133.3C380.7,134.3 381.9,137.4 382.5,138.3C383.1,139.2 386.4,141.7 386.7,142.5C386.9,143.3 385.7,145.9 385.0,146.7C384.3,147.4 380.6,149.2 379.5,150.0C378.4,150.8 375.1,154.0 374.5,155.0C373.9,156.0 373.6,158.4 373.5,160.0C373.4,161.6 373.1,169.8 374.0,171.3C374.9,172.8 380.7,174.2 382.0,175.0C383.3,175.8 386.1,178.1 387.0,178.8C387.9,179.6 389.9,182.1 390.8,182.5C391.7,182.9 394.7,183.2 395.8,183.0C396.9,182.8 400.9,180.8 402.0,180.0C403.1,179.2 406.0,175.9 407.0,175.0C408.0,174.1 410.5,172.2 412.0,171.3C413.5,170.4 419.8,167.4 422.0,166.3C424.2,165.2 432.2,161.1 434.5,160.0C436.8,158.9 442.8,156.1 444.5,155.0C446.2,153.9 450.9,150.1 452.0,148.8C453.1,147.6 455.2,143.6 455.8,142.5C456.4,141.4 457.4,138.4 458.3,137.5C459.2,136.6 462.6,134.3 464.5,133.8C466.4,133.3 474.2,132.6 477.0,132.5C479.8,132.4 489.0,132.9 492.0,133.0C495.0,133.1 504.0,133.5 507.0,133.8C510.0,134.1 519.0,135.6 522.0,136.3C525.0,137.1 534.2,140.3 537.0,141.3C539.8,142.3 547.4,145.6 549.5,146.3C551.6,147.1 556.4,148.5 558.0,148.8C559.6,149.1 563.8,149.2 565.5,149.5C567.2,149.8 573.5,151.2 575.5,151.3C577.5,151.4 583.5,150.9 585.5,150.5C587.5,150.1 593.8,148.2 595.5,147.5C597.2,146.8 601.9,144.6 603.0,143.8C604.1,143.0 605.9,139.9 606.8,139.5C607.7,139.1 610.9,139.6 612.0,139.8C613.1,140.0 616.8,141.2 618.0,141.5C619.2,141.8 622.8,142.8 624.0,143.0C625.2,143.2 628.7,143.4 630.0,143.3C631.3,143.2 635.4,142.1 636.7,141.8C638.0,141.5 642.0,140.5 643.3,140.0C644.5,139.5 648.0,137.4 649.2,136.7C650.5,135.9 654.8,133.4 655.8,132.5C656.8,131.6 661.1,130.8 659.5,127.5C657.9,124.2 650.0,104.8 640.0,100.0C630.0,95.2 606.0,82.0 560.0,80.0C514.0,78.0 226.0,78.0 180.0,80.0C134.0,82.0 110.0,95.2 100.0,100.0C90.0,104.8 81.4,124.6 80.0,128.0Z" fill="#fa0608"/>
<path d="M457.8,202.5C458.1,199.2 459.1,197.3 460.3,195.0C461.6,192.7 463.4,190.1 465.3,188.8C467.2,187.5 469.4,186.8 471.5,187.0C473.6,187.2 476.1,188.4 477.8,190.0C479.6,191.6 481.2,193.8 482.0,196.3C482.8,198.8 483.1,201.9 482.8,205.0C482.5,208.1 481.4,211.7 480.3,215.0C479.2,218.3 478.0,222.3 476.5,225.0C475.0,227.7 472.9,229.7 471.5,231.3C470.1,232.9 469.2,234.6 468.0,234.5C466.8,234.4 465.1,232.4 464.0,231.0C462.9,229.6 462.4,229.0 461.5,226.3C460.6,223.6 459.1,219.0 458.5,215.0C457.9,211.0 457.5,205.8 457.8,202.5Z" fill="#fa0608"/>
<path d="M465.3,202.5C465.9,201.2 467.6,199.0 469.0,198.8C470.4,198.6 472.3,199.9 474.0,201.3C475.7,202.8 478.2,205.2 479.0,207.5C479.8,209.8 479.8,212.9 479.0,215.0C478.2,217.1 475.4,219.6 474.0,220.0C472.6,220.4 471.3,218.9 470.3,217.5C469.3,216.1 468.6,213.2 467.8,211.3C467.0,209.4 465.7,207.8 465.3,206.3C464.9,204.8 464.7,203.8 465.3,202.5Z" fill="#fa8205"/>
<path d="M270.3,298.8C270.3,297.3 270.9,295.4 272.3,293.8C273.7,292.2 276.0,290.6 278.5,289.5C281.0,288.4 285.0,287.0 287.3,287.0C289.6,287.0 291.5,288.2 292.3,289.5C293.1,290.8 293.1,292.8 292.3,294.5C291.5,296.2 289.6,298.1 287.3,299.5C285.0,300.9 281.0,302.4 278.5,303.0C276.0,303.6 273.7,303.7 272.3,303.0C270.9,302.3 270.3,300.3 270.3,298.8Z" fill="#fa0608"/>
<path d="M257.2,173.8C257.2,173.2 258.2,172.0 258.8,172.0C259.4,172.0 260.5,173.2 260.5,173.8C260.5,174.4 259.4,175.6 258.8,175.6C258.2,175.6 257.2,174.4 257.2,173.8Z" fill="#fa0608"/>
<path d="M251.5,441.3C251.9,440.5 254.0,440.0 256.0,440.0C258.0,440.0 262.0,440.7 263.5,441.3C265.0,441.9 265.2,443.1 264.8,443.8C264.4,444.5 262.9,445.3 261.0,445.5C259.1,445.7 255.1,445.7 253.5,445.0C251.9,444.3 251.1,442.1 251.5,441.3Z" fill="#fa0608"/>
<path d="M417.0,448.8 L420.8,441.3 L443.3,442.0 L443.3,445.0 L438.3,449.5 L422.0,450.5Z" fill="#fa0608"/>
<path d="M348.5,366.3C348.5,365.0 351.1,362.5 352.3,362.5C353.6,362.5 356.0,365.0 356.0,366.3C356.0,367.6 353.6,370.3 352.3,370.3C351.1,370.3 348.5,367.6 348.5,366.3Z" fill="#fa8205"/>
<path d="M350.3,366.3C350.3,365.6 351.6,364.0 352.3,364.0C353.0,364.0 354.5,365.6 354.5,366.3C354.5,367.1 353.0,368.5 352.3,368.5C351.6,368.5 350.3,367.1 350.3,366.3Z" fill="#fa0608"/>
<path id="arcticdred" d="M160.0,80.0 L160.0,92.3 L372.0,92.3 L372.0,94.5 L387.0,95.0 L409.5,96.3 L434.5,100.0 L447.0,102.0 L457.0,103.8 L472.0,102.5 L482.0,104.5 L497.0,102.5 L512.0,98.8 L524.5,95.0 L532.0,92.0 L542.0,90.5 L558.0,90.3 L572.0,89.5 L575.0,80.0Z" fill="#7b0000"/>
<path d="M96.3,421.3 L106.3,413.8 L125.0,413.0 L126.3,410.8 L128.0,413.0 L155.0,413.0 L157.7,412.5 L160.5,415.3 L165.2,420.0 L186.0,420.8 L217.3,421.3 L219.9,422.8 L225.5,428.5 L233.1,434.1 L242.5,437.9 L250.0,440.7 L244.4,443.6 L233.1,445.0 L214.2,445.4 L195.4,446.4 L176.5,444.5 L172.8,439.8 L169.0,436.0 L157.7,433.2 L144.5,432.3 L131.3,430.4 L120.0,427.5 L103.0,427.0Z" fill="#a3a3a3"/>
<path d="M337.5,418.3 L340.0,413.3 L343.3,412.5 L343.3,405.0 L365.0,404.2 L365.8,401.3 L367.5,400.3 L370.0,401.3 L371.7,404.2 L371.9,410.8 L356.7,411.7 L355.8,418.3Z" fill="#a3a3a3"/>
<path d="M383.0,403.8C383.0,402.7 384.0,401.1 385.0,400.5C386.0,399.9 388.0,399.9 389.0,400.5C390.0,401.1 391.0,402.7 391.0,403.8C391.0,404.9 390.0,406.5 389.0,407.0C388.0,407.5 386.0,407.5 385.0,407.0C384.0,406.5 383.0,404.9 383.0,403.8Z" fill="#a3a3a3"/>
<path d="M401.5,406.7C401.5,405.8 402.4,404.4 403.3,403.9C404.2,403.4 405.8,403.4 406.7,403.9C407.6,404.4 408.5,405.8 408.5,406.7C408.5,407.6 407.6,409.1 406.7,409.6C405.8,410.1 404.2,410.1 403.3,409.6C402.4,409.1 401.5,407.6 401.5,406.7Z" fill="#a3a3a3"/>
<path d="M409.7,403.3C409.7,402.7 411.0,401.5 411.7,401.5C412.4,401.5 413.7,402.7 413.7,403.3C413.7,403.9 412.4,405.2 411.7,405.2C411.0,405.2 409.7,403.9 409.7,403.3Z" fill="#a3a3a3"/>
<path d="M150.0,451.3 L560.0,451.3 L600.0,448.0 L600.0,462.0 L150.0,462.0Z" fill="#fbc904"/>
<path d="M90.0,147.5 L98.3,145.0 L106.7,142.5 L111.7,136.7 L107.5,139.2 L103.3,136.7 L105.0,132.5 L110.0,129.2 L115.0,125.0 L108.3,125.8 L105.0,121.7 L113.3,118.3 L123.3,115.8 L135.0,114.2 L146.7,114.2 L158.3,115.0 L170.0,114.2 L183.3,112.5 L196.7,111.5 L205.0,114.0 L212.0,118.0 L220.0,121.0 L226.0,127.0 L221.0,131.0 L215.8,137.0 L217.5,142.0 L225.0,145.3 L230.8,147.8 L230.0,152.0 L231.7,155.0 L235.0,152.0 L235.8,147.8 L240.0,145.3 L243.3,142.0 L245.0,137.0 L247.5,132.0 L252.5,129.5 L256.7,131.2 L259.2,135.3 L261.7,138.7 L265.0,137.0 L267.5,135.3 L270.0,143.7 L273.3,150.3 L275.8,156.2 L272.0,157.5 L267.5,156.2 L260.0,157.0 L253.3,158.7 L246.7,162.0 L243.3,164.5 L251.7,162.0 L256.7,163.7 L254.2,167.0 L260.0,166.2 L263.3,165.3 L261.7,168.7 L255.8,171.2 L251.7,170.3 L248.3,172.0 L243.3,174.5 L238.3,177.0 L234.2,178.7 L231.7,181.8 L227.5,181.3 L225.5,186.0 L223.5,190.5 L222.5,192.5 L219.4,196.1 L217.2,199.4 L215.0,205.0 L213.9,210.6 L211.7,213.5 L211.1,208.3 L212.2,202.8 L213.9,198.3 L209.4,201.7 L206.1,204.4 L201.7,203.3 L197.2,202.8 L192.8,203.3 L187.2,204.4 L182.8,207.2 L179.4,211.7 L177.2,217.2 L176.7,222.8 L178.3,227.2 L182.8,229.4 L187.2,228.3 L190.0,225.6 L193.9,223.9 L198.3,223.3 L197.2,227.5 L194.5,231.7 L193.0,236.0 L195.0,236.7 L200.6,237.2 L203.3,239.4 L203.9,242.8 L202.8,246.1 L203.9,249.4 L206.7,251.7 L210.6,252.8 L213.9,252.2 L217.2,249.4 L215.5,252.5 L214.5,255.3 L210.0,256.0 L206.1,254.4 L201.7,252.8 L198.3,250.6 L195.0,247.2 L191.7,243.9 L187.2,240.6 L181.7,237.8 L176.1,235.6 L170.6,233.3 L165.0,229.5 L160.5,222.0 L157.0,216.0 L153.5,210.0 L151.0,205.5 L151.5,211.5 L153.0,217.0 L150.5,217.0 L148.0,211.0 L146.3,205.0 L143.0,199.5 L140.0,194.0 L138.5,187.0 L139.5,180.0 L142.0,173.0 L145.5,167.0 L149.0,162.5 L150.5,158.5 L148.3,154.2 L146.5,150.0 L146.7,145.0 L145.8,140.0 L143.3,136.7 L136.7,134.2 L130.0,135.8 L124.2,135.0 L118.3,136.7 L110.8,140.8 L100.0,145.8 L90.0,147.5M270.0,154.5 L275.0,156.5 L276.7,163.7 L271.7,163.7 L266.7,162.0 L269.2,157.8ZM205.8,164.5 L210.8,162.0 L215.0,161.2 L217.5,163.7 L215.0,165.3 L210.8,166.2ZM210.8,167.0 L209.2,172.0 L210.8,174.5 L212.5,170.3ZM216.7,166.2 L220.0,168.7 L218.3,173.7 L222.5,172.0 L225.8,169.5 L221.0,167.0ZM223.3,174.0 L227.0,172.5 L230.5,171.2 L227.5,173.5ZM287.0,98.0 L291.0,104.8 L292.3,111.0 L296.0,114.8 L292.3,117.3 L290.5,123.5 L292.3,129.8 L297.3,134.8 L303.5,133.5 L311.0,127.3 L321.0,123.5 L331.0,118.5 L336.0,115.5 L341.0,109.8 L346.0,103.5 L348.5,98.5 L346.0,94.8 L340.0,92.5M202.8,221.1 L207.2,220.0 L212.8,221.1 L218.3,223.9 L223.9,226.7 L229.4,227.2 L233.9,228.9 L230.6,229.4 L225.0,228.3 L219.4,226.7 L213.9,223.9 L208.3,222.2 L203.9,222.2ZM222.8,230.2 L227.0,229.8 L231.7,230.3 L231.5,231.6 L226.0,231.8 L222.8,231.3ZM215.0,230.2 L217.5,230.2 L217.5,231.2 L215.0,231.2ZM237.3,230.4 L239.0,230.4 L239.0,231.3 L237.3,231.3ZM197.0,112.0 L199.0,109.0 L201.0,108.5 L204.0,110.0 L206.0,109.0 L208.0,113.0 L206.0,115.0 L204.0,116.5 L201.0,115.0 L199.0,116.0ZM208.0,116.0 L210.0,113.0 L212.0,111.0 L215.0,112.0 L219.0,109.5 L223.0,111.5 L226.0,111.5 L229.0,116.0 L226.0,117.0 L224.0,119.5 L220.0,118.5 L216.0,120.0 L213.0,118.5 L210.0,119.5ZM230.0,108.0 L232.0,105.0 L234.0,104.0 L236.0,106.5 L238.0,106.0 L237.0,112.0 L234.5,111.0 L232.0,113.0ZM213.0,105.0 L216.0,102.5 L219.0,101.5 L222.0,103.0 L226.0,102.0 L229.0,105.0 L225.0,105.5 L222.0,107.5 L218.0,106.0 L215.0,107.5ZM240.0,101.0 L243.0,99.0 L247.0,98.5 L250.0,100.5 L254.0,100.0 L252.0,103.5 L248.0,102.5 L244.0,104.5ZM250.0,96.5 L254.0,94.0 L258.0,93.0 L263.0,94.5 L268.0,92.5 L272.0,93.0 L276.0,94.5 L272.0,96.0 L270.0,98.0 L265.0,97.0 L260.0,99.5 L256.0,98.0 L253.0,99.0ZM243.0,95.5 L246.0,93.2 L248.0,93.5 L250.0,96.0 L246.0,98.0ZM238.0,113.0 L241.0,110.0 L243.0,108.0 L247.0,108.5 L250.0,106.5 L254.0,107.0 L257.0,105.0 L260.0,107.5 L263.0,107.0 L266.0,110.0 L268.0,110.5 L270.0,113.5 L272.0,114.5 L274.0,117.5 L277.0,117.0 L280.0,121.0 L278.0,123.5 L276.0,124.0 L273.0,121.5 L270.0,121.5 L267.0,123.5 L264.0,122.5 L262.0,120.0 L259.0,119.5 L256.0,117.5 L253.0,116.5 L250.0,117.5 L247.0,116.0 L244.0,117.5 L242.0,117.0ZM236.0,124.5 L238.0,122.5 L240.0,122.0 L243.5,124.5 L242.0,127.0 L241.0,128.0 L237.0,127.5ZM226.0,99.0 L230.0,97.0 L234.0,98.0 L232.0,100.5 L228.0,101.0ZM203.0,104.0 L207.0,101.5 L211.0,102.5 L208.0,105.5 L204.0,106.0ZM398.0,96.0 L402.0,94.0 L406.0,95.5 L404.0,98.5 L400.0,99.0ZM452.0,104.0 L458.0,100.0 L464.0,98.5 L462.0,101.5 L456.0,105.5ZM56.5,221.5 L57.5,221.5 L57.5,222.5 L56.5,222.5ZM59.0,223.5 L60.2,223.5 L60.2,224.7 L59.0,224.7ZM61.5,225.8 L63.5,225.8 L63.8,228.0 L62.0,228.3ZM216.2,215.2 L217.3,215.2 L217.3,216.4 L216.2,216.4ZM224.6,223.9 L225.7,223.9 L225.7,225.0 L224.6,225.0ZM259.5,391.0 L262.5,390.5 L263.0,392.3 L260.0,392.8ZM217.2,249.4 L220.6,247.2 L225.0,245.6 L227.8,243.9 L231.7,245.0 L236.1,247.2 L241.7,248.3 L246.5,248.9 L251.3,252.7 L256.9,257.4 L261.7,260.3 L265.5,265.0 L269.2,271.6 L274.9,273.9 L284.4,275.4 L291.9,279.2 L298.6,283.9 L301.4,288.6 L299.5,295.3 L297.6,301.9 L294.8,309.5 L291.9,317.0 L288.2,322.7 L282.5,327.4 L278.7,332.0 L276.0,337.0 L272.5,342.0 L268.5,347.5 L263.5,352.5 L266.0,355.5 L263.5,357.5 L256.0,365.0 L252.3,372.5 L253.5,380.0 L251.0,386.0 L252.3,392.5 L258.5,398.8 L252.0,398.0 L246.0,396.3 L239.8,390.0 L236.0,380.0 L234.8,370.0 L232.3,355.0 L232.3,340.0 L231.0,325.0 L231.0,318.9 L228.6,313.2 L222.9,309.5 L216.3,302.8 L211.5,294.3 L207.8,286.8 L205.9,281.1 L207.8,274.5 L211.5,267.8 L214.4,262.2 L212.5,256.5 L214.4,251.8M334.7,123.9 L339.5,122.4 L347.0,123.0 L349.9,124.9 L346.1,127.7 L338.5,128.1ZM360.3,141.9 L365.0,139.1 L367.8,141.9 L366.9,145.7 L369.7,149.5 L371.6,154.2 L372.6,157.0 L366.9,158.0 L364.1,156.1 L366.9,153.2 L364.1,151.3 L365.0,147.6 L362.2,145.7ZM354.6,149.5 L358.4,146.6 L362.2,148.5 L361.2,153.2 L356.5,154.6ZM470.0,118.0 L455.0,114.0 L440.0,113.0 L428.4,115.4 L417.0,114.5 L405.7,116.4 L394.3,120.1 L386.8,125.8 L381.1,133.4 L383.9,137.2 L386.8,141.9 L392.4,142.8 L395.3,145.7 L400.0,139.1 L405.7,131.5 L409.5,125.8 L413.2,129.6 L409.5,137.2 L413.2,142.8 L420.8,141.9 L415.0,144.0 L411.3,145.7 L405.7,150.4 L398.1,152.3 L390.5,150.4 L388.6,145.7 L385.8,152.3 L381.1,155.1 L375.4,158.0 L370.7,159.9 L366.9,161.8 L368.8,165.5 L370.7,170.3 L367.8,172.2 L358.4,172.2 L355.5,174.0 L355.5,180.7 L354.6,186.3 L358.4,188.2 L361.2,191.1 L365.9,189.2 L371.6,184.5 L374.5,179.7 L379.2,176.9 L384.9,177.8 L388.6,180.7 L392.4,179.7 L396.2,184.5 L400.9,188.2 L402.8,185.4 L399.1,180.7 L397.2,176.9 L400.9,177.8 L404.7,182.6 L409.5,188.2 L411.3,193.0 L414.2,189.2 L417.0,184.5 L420.8,183.5 L424.6,188.2 L432.2,190.1 L438.8,189.2 L441.6,191.1 L440.7,197.7 L439.7,205.3M425.0,171.7 L429.2,165.8 L436.7,164.2 L440.0,166.7 L443.3,164.2 L444.2,169.2 L449.2,174.2 L445.0,177.5 L436.7,178.3 L428.3,178.3 L424.2,175.8ZM459.2,168.3 L463.3,165.0 L470.0,165.8 L468.3,170.0 L470.0,175.0 L473.3,180.0 L470.0,183.3 L465.8,181.7 L464.2,176.7 L460.8,172.5ZM478.3,166.7 L481.7,165.0 L485.0,167.5 L483.3,171.7 L479.2,171.7ZM470.0,118.0 L480.0,121.0 L492.0,117.0 L505.0,119.0 L520.0,113.0 L535.0,111.0 L548.0,106.0 L560.0,108.0 L575.0,110.0 L590.0,112.0 L606.0,114.0 L620.0,116.0 L634.0,120.0 L646.0,124.0 L655.0,128.0M361.2,192.0 L367.8,193.9 L377.3,193.0 L386.8,192.0 L392.4,191.1 L394.3,195.8 L400.0,199.6 L407.6,202.5 L413.2,200.6 L418.9,202.5 L428.4,203.4 L435.9,202.5 L437.5,205.0 L439.5,209.0 L442.5,215.0 L448.8,226.3 L455.0,236.3 L460.0,243.8 L462.5,246.8 L468.3,247.0 L476.3,247.0 L473.3,255.0 L467.0,265.0 L458.3,275.0 L453.3,285.0 L454.5,300.0 L452.0,312.5 L443.3,322.5 L439.5,335.0 L432.0,345.0 L422.0,351.3 L412.0,352.8 L408.3,350.0 L404.5,337.5 L400.8,325.0 L397.0,312.5 L399.5,300.0 L397.0,287.5 L392.0,273.8 L389.5,265.0 L386.0,259.5 L382.0,257.5 L376.0,258.5 L371.8,260.0 L361.0,261.3 L353.5,258.8 L347.3,252.5 L341.0,245.0 L338.5,237.5 L339.0,230.0 L341.0,222.0 L346.0,215.0 L349.8,210.0 L356.0,202.5 L361.2,195.0 L361.2,192.0M439.7,205.3 L440.5,203.5 L442.3,207.0 L445.5,214.0 L452.5,225.3 L458.8,236.5 L462.5,243.8 L464.5,245.0 L471.5,240.0 L481.5,233.8 L489.0,226.3 L492.8,218.8 L487.8,213.8 L482.8,212.5 L479.0,216.3 L474.0,213.8 L469.0,205.0 L465.3,200.0 L470.3,201.3 L476.5,207.5 L482.8,211.3 L494.0,213.8 L501.5,216.3 L509.0,218.8 L515.0,224.2 L517.5,222.5 L519.2,228.3 L521.7,236.7 L525.0,245.0 L529.2,252.5 L532.5,257.5 L534.2,250.0 L534.2,243.3 L535.0,236.7 L540.0,230.8 L546.7,225.0 L552.5,221.7 L555.8,222.5 L560.0,228.3 L563.3,235.0 L567.5,234.2 L570.0,239.2 L572.5,245.8 L573.3,251.7 L576.7,257.5 L580.8,265.0 L585.8,273.3 L588.8,278.8 L590.1,281.2 L587.2,273.6 L584.4,266.1 L579.6,257.6 L575.9,250.0 L574.9,245.3 L577.8,243.4 L582.5,246.2 L586.3,251.9 L591.0,249.1 L593.8,243.4 L592.9,235.8 L589.1,232.0 L585.3,230.1 L587.2,226.4 L591.9,223.5 L596.7,222.6 L603.5,219.6 L608.2,215.8 L611.1,210.1 L610.1,204.5 L607.3,199.7 L604.5,194.1 L607.3,190.3 L604.5,186.5 L598.8,185.5 L596.9,181.8 L600.7,178.9 L605.4,181.8 L609.2,185.5 L613.9,187.4 L616.8,192.2 L620.5,190.3 L616.8,185.5 L613.0,181.8 L613.9,177.0 L617.7,173.2 L620.5,168.5 L623.4,162.8 L621.5,158.1 L618.6,151.5 L614.9,148.6 L605.4,147.7 L607.3,140.1 L616.8,138.2 L622.4,141.1 L625.3,134.5 L631.9,132.6 L635.7,136.4 L635.7,142.0 L638.5,145.8 L643.2,151.5 L648.0,155.3 L648.9,149.6 L647.0,143.9 L641.3,141.1 L643.2,134.5 L648.9,130.7 L655.0,128.0M436.0,272.5 L439.0,271.5 L442.0,273.5 L441.5,277.5 L438.0,278.8 L436.0,276.0ZM459.5,330.0 L459.0,320.0 L463.3,308.5 L469.0,302.3 L473.5,303.0 L474.0,310.0 L470.5,320.0 L465.8,329.5 L462.0,332.5ZM534.5,250.5 L537.0,251.5 L537.5,256.0 L535.5,258.5 L533.8,255.5ZM618.6,149.6 L624.3,157.2 L629.1,164.7 L632.8,169.5 L630.0,166.6 L625.3,160.9 L620.5,153.4ZM632.8,169.5 L637.6,170.4 L641.3,173.2 L637.6,175.1 L633.8,174.2ZM634.7,176.1 L637.6,179.9 L640.4,184.6 L642.3,190.3 L638.5,193.1 L634.7,194.1 L630.0,191.2 L626.2,193.1 L627.5,190.0 L633.8,188.4 L635.7,183.7 L633.8,178.9ZM613.0,215.8 L614.9,214.9 L615.2,218.6 L613.3,220.5ZM592.0,225.0 L595.0,224.5 L596.0,228.5 L593.0,230.0ZM566.4,260.4 L573.0,262.3 L578.7,269.9 L584.4,277.4 L589.1,284.0 L588.2,287.8 L582.5,283.1 L575.9,275.5 L570.2,268.0ZM590.1,287.8 L596.7,286.9 L604.2,289.7 L605.6,292.6 L600.5,292.2 L593.8,290.7ZM595.7,270.8 L600.5,266.1 L606.1,261.3 L610.9,257.6 L614.6,260.4 L612.8,266.1 L613.7,271.8 L610.9,276.5 L608.0,282.2 L603.3,281.2 L600.5,278.4 L596.7,276.5ZM616.5,271.8 L623.2,270.8 L624.1,273.6 L620.3,275.5 L622.2,280.3 L623.2,285.0 L620.3,284.1 L619.4,279.3 L617.5,285.0 L615.6,280.3ZM613.7,231.1 L617.5,230.1 L619.4,234.9 L622.2,240.5 L619.4,241.5 L615.6,237.7ZM621.3,254.7 L626.0,250.9 L629.8,253.8 L628.8,259.5 L625.0,259.5ZM640.2,275.5 L644.9,274.6 L646.8,278.4 L650.6,279.3 L654.4,276.5 L662.0,280.3 L669.5,285.9 L674.2,292.6 L678.0,297.3 L672.3,295.4 L667.6,290.7 L662.0,293.5 L657.2,292.6 L654.4,287.8 L649.6,284.1 L644.0,281.2ZM597.5,333.3 L599.2,325.8 L603.3,321.7 L611.7,317.5 L619.2,312.5 L625.0,308.3 L630.0,305.8 L634.2,307.5 L638.3,301.7 L643.3,300.8 L649.2,302.5 L648.3,307.5 L651.7,311.7 L655.8,313.3 L658.3,308.3 L660.8,299.2 L663.3,305.0 L665.0,311.7 L668.3,316.7 L671.7,322.5 L675.0,330.0 L675.8,336.7 L673.3,343.3 L668.3,350.0 L661.7,356.7 L655.0,360.8 L649.2,362.5 L645.0,360.8 L640.8,359.2 L638.3,355.0 L639.2,350.8 L635.8,354.2 L633.3,349.2 L628.3,346.7 L620.8,347.5 L613.3,349.2 L606.7,350.0 L600.8,353.3 L595.8,353.3 L597.5,346.7 L596.7,340.0ZM641.7,368.3 L645.0,365.8 L649.2,366.7 L648.3,370.8 L644.2,373.3 L641.7,371.7ZM675.8,378.3 L685.0,373.3 L695.0,367.5 L701.7,363.3 L706.7,360.8 L705.0,365.0 L698.3,369.2 L688.3,375.0 L680.0,380.8ZM705.0,359.0 L707.5,352.5 L706.0,345.5 L709.5,348.5 L712.5,353.0 L709.0,358.5 L706.5,361.0ZM163.3,443.6 L174.6,441.7 L182.2,440.7 L195.4,439.8 L199.1,436.0 L208.6,437.9 L218.0,437.0 L225.5,438.9 L233.1,436.0 L240.6,437.0 L251.0,436.3 L261.0,435.0 L268.5,435.0 L272.3,432.5 L268.5,430.0 L269.8,425.0 L273.5,420.0 L278.5,415.0 L281.0,422.5 L284.8,430.0 L286.0,437.5 L283.5,442.5 L290.0,443.3 L306.7,445.8 L323.3,445.0 L336.7,440.0 L346.7,435.8 L355.0,433.3 L357.5,431.5 L359.5,433.3 L362.0,431.3 L364.5,433.3 L367.0,431.3 L369.5,433.0 L371.8,432.3 L383.3,430.8 L397.0,430.0 L422.0,428.8 L432.0,428.8 L440.0,425.8 L446.7,424.2 L453.3,421.7 L458.3,423.3 L466.7,425.0 L475.8,425.8 L475.8,430.0 L483.3,429.2 L495.0,425.0 L510.0,423.3 L530.0,421.7 L540.0,423.3 L546.7,422.0 L558.8,423.5 L579.6,422.2 L592.0,425.1 L604.5,429.3 L617.0,433.4 L608.7,439.7 L592.0,445.9 L573.3,450.1M167.1,445.4 L176.5,447.3 L184.1,450.2 L195.4,453.0" fill="none" stroke="#4a0f05" stroke-width="1.15" stroke-linejoin="round"/>
<g clip-path="url(#arc)"><use href="#arcticred"/><use href="#arcticdred"/><path d="M195,116C196,110 205,102 215,99S245,94 255,92S284,90 290,93S280,102 272,106S258,115 250,118S232,122.5 225,123S200,121 198,120Z" fill="#6a0000" opacity="0.17"/><path d="M90.0,147.5 L98.3,145.0 L106.7,142.5 L111.7,136.7 L107.5,139.2 L103.3,136.7 L105.0,132.5 L110.0,129.2 L115.0,125.0 L108.3,125.8 L105.0,121.7 L113.3,118.3 L123.3,115.8 L135.0,114.2 L146.7,114.2 L158.3,115.0 L170.0,114.2 L183.3,112.5 L196.7,111.5 L205.0,114.0 L212.0,118.0 L220.0,121.0 L226.0,127.0 L221.0,131.0 L215.8,137.0 L217.5,142.0 L225.0,145.3 L230.8,147.8 L230.0,152.0 L231.7,155.0 L235.0,152.0 L235.8,147.8 L240.0,145.3 L243.3,142.0 L245.0,137.0 L247.5,132.0 L252.5,129.5 L256.7,131.2 L259.2,135.3 L261.7,138.7 L265.0,137.0 L267.5,135.3 L270.0,143.7 L273.3,150.3 L275.8,156.2 L272.0,157.5 L267.5,156.2 L260.0,157.0 L253.3,158.7 L246.7,162.0 L243.3,164.5 L251.7,162.0 L256.7,163.7 L254.2,167.0 L260.0,166.2 L263.3,165.3 L261.7,168.7 L255.8,171.2 L251.7,170.3 L248.3,172.0 L243.3,174.5 L238.3,177.0 L234.2,178.7 L231.7,181.8 L227.5,181.3 L225.5,186.0 L223.5,190.5 L222.5,192.5 L219.4,196.1 L217.2,199.4 L215.0,205.0 L213.9,210.6 L211.7,213.5 L211.1,208.3 L212.2,202.8 L213.9,198.3 L209.4,201.7 L206.1,204.4 L201.7,203.3 L197.2,202.8 L192.8,203.3 L187.2,204.4 L182.8,207.2 L179.4,211.7 L177.2,217.2 L176.7,222.8 L178.3,227.2 L182.8,229.4 L187.2,228.3 L190.0,225.6 L193.9,223.9 L198.3,223.3 L197.2,227.5 L194.5,231.7 L193.0,236.0 L195.0,236.7 L200.6,237.2 L203.3,239.4 L203.9,242.8 L202.8,246.1 L203.9,249.4 L206.7,251.7 L210.6,252.8 L213.9,252.2 L217.2,249.4 L215.5,252.5 L214.5,255.3 L210.0,256.0 L206.1,254.4 L201.7,252.8 L198.3,250.6 L195.0,247.2 L191.7,243.9 L187.2,240.6 L181.7,237.8 L176.1,235.6 L170.6,233.3 L165.0,229.5 L160.5,222.0 L157.0,216.0 L153.5,210.0 L151.0,205.5 L151.5,211.5 L153.0,217.0 L150.5,217.0 L148.0,211.0 L146.3,205.0 L143.0,199.5 L140.0,194.0 L138.5,187.0 L139.5,180.0 L142.0,173.0 L145.5,167.0 L149.0,162.5 L150.5,158.5 L148.3,154.2 L146.5,150.0 L146.7,145.0 L145.8,140.0 L143.3,136.7 L136.7,134.2 L130.0,135.8 L124.2,135.0 L118.3,136.7 L110.8,140.8 L100.0,145.8 L90.0,147.5M270.0,154.5 L275.0,156.5 L276.7,163.7 L271.7,163.7 L266.7,162.0 L269.2,157.8ZM205.8,164.5 L210.8,162.0 L215.0,161.2 L217.5,163.7 L215.0,165.3 L210.8,166.2ZM210.8,167.0 L209.2,172.0 L210.8,174.5 L212.5,170.3ZM216.7,166.2 L220.0,168.7 L218.3,173.7 L222.5,172.0 L225.8,169.5 L221.0,167.0ZM223.3,174.0 L227.0,172.5 L230.5,171.2 L227.5,173.5ZM287.0,98.0 L291.0,104.8 L292.3,111.0 L296.0,114.8 L292.3,117.3 L290.5,123.5 L292.3,129.8 L297.3,134.8 L303.5,133.5 L311.0,127.3 L321.0,123.5 L331.0,118.5 L336.0,115.5 L341.0,109.8 L346.0,103.5 L348.5,98.5 L346.0,94.8 L340.0,92.5M202.8,221.1 L207.2,220.0 L212.8,221.1 L218.3,223.9 L223.9,226.7 L229.4,227.2 L233.9,228.9 L230.6,229.4 L225.0,228.3 L219.4,226.7 L213.9,223.9 L208.3,222.2 L203.9,222.2ZM222.8,230.2 L227.0,229.8 L231.7,230.3 L231.5,231.6 L226.0,231.8 L222.8,231.3ZM215.0,230.2 L217.5,230.2 L217.5,231.2 L215.0,231.2ZM237.3,230.4 L239.0,230.4 L239.0,231.3 L237.3,231.3ZM197.0,112.0 L199.0,109.0 L201.0,108.5 L204.0,110.0 L206.0,109.0 L208.0,113.0 L206.0,115.0 L204.0,116.5 L201.0,115.0 L199.0,116.0ZM208.0,116.0 L210.0,113.0 L212.0,111.0 L215.0,112.0 L219.0,109.5 L223.0,111.5 L226.0,111.5 L229.0,116.0 L226.0,117.0 L224.0,119.5 L220.0,118.5 L216.0,120.0 L213.0,118.5 L210.0,119.5ZM230.0,108.0 L232.0,105.0 L234.0,104.0 L236.0,106.5 L238.0,106.0 L237.0,112.0 L234.5,111.0 L232.0,113.0ZM213.0,105.0 L216.0,102.5 L219.0,101.5 L222.0,103.0 L226.0,102.0 L229.0,105.0 L225.0,105.5 L222.0,107.5 L218.0,106.0 L215.0,107.5ZM240.0,101.0 L243.0,99.0 L247.0,98.5 L250.0,100.5 L254.0,100.0 L252.0,103.5 L248.0,102.5 L244.0,104.5ZM250.0,96.5 L254.0,94.0 L258.0,93.0 L263.0,94.5 L268.0,92.5 L272.0,93.0 L276.0,94.5 L272.0,96.0 L270.0,98.0 L265.0,97.0 L260.0,99.5 L256.0,98.0 L253.0,99.0ZM243.0,95.5 L246.0,93.2 L248.0,93.5 L250.0,96.0 L246.0,98.0ZM238.0,113.0 L241.0,110.0 L243.0,108.0 L247.0,108.5 L250.0,106.5 L254.0,107.0 L257.0,105.0 L260.0,107.5 L263.0,107.0 L266.0,110.0 L268.0,110.5 L270.0,113.5 L272.0,114.5 L274.0,117.5 L277.0,117.0 L280.0,121.0 L278.0,123.5 L276.0,124.0 L273.0,121.5 L270.0,121.5 L267.0,123.5 L264.0,122.5 L262.0,120.0 L259.0,119.5 L256.0,117.5 L253.0,116.5 L250.0,117.5 L247.0,116.0 L244.0,117.5 L242.0,117.0ZM236.0,124.5 L238.0,122.5 L240.0,122.0 L243.5,124.5 L242.0,127.0 L241.0,128.0 L237.0,127.5ZM226.0,99.0 L230.0,97.0 L234.0,98.0 L232.0,100.5 L228.0,101.0ZM203.0,104.0 L207.0,101.5 L211.0,102.5 L208.0,105.5 L204.0,106.0ZM398.0,96.0 L402.0,94.0 L406.0,95.5 L404.0,98.5 L400.0,99.0ZM452.0,104.0 L458.0,100.0 L464.0,98.5 L462.0,101.5 L456.0,105.5ZM56.5,221.5 L57.5,221.5 L57.5,222.5 L56.5,222.5ZM59.0,223.5 L60.2,223.5 L60.2,224.7 L59.0,224.7ZM61.5,225.8 L63.5,225.8 L63.8,228.0 L62.0,228.3ZM216.2,215.2 L217.3,215.2 L217.3,216.4 L216.2,216.4ZM224.6,223.9 L225.7,223.9 L225.7,225.0 L224.6,225.0ZM259.5,391.0 L262.5,390.5 L263.0,392.3 L260.0,392.8ZM217.2,249.4 L220.6,247.2 L225.0,245.6 L227.8,243.9 L231.7,245.0 L236.1,247.2 L241.7,248.3 L246.5,248.9 L251.3,252.7 L256.9,257.4 L261.7,260.3 L265.5,265.0 L269.2,271.6 L274.9,273.9 L284.4,275.4 L291.9,279.2 L298.6,283.9 L301.4,288.6 L299.5,295.3 L297.6,301.9 L294.8,309.5 L291.9,317.0 L288.2,322.7 L282.5,327.4 L278.7,332.0 L276.0,337.0 L272.5,342.0 L268.5,347.5 L263.5,352.5 L266.0,355.5 L263.5,357.5 L256.0,365.0 L252.3,372.5 L253.5,380.0 L251.0,386.0 L252.3,392.5 L258.5,398.8 L252.0,398.0 L246.0,396.3 L239.8,390.0 L236.0,380.0 L234.8,370.0 L232.3,355.0 L232.3,340.0 L231.0,325.0 L231.0,318.9 L228.6,313.2 L222.9,309.5 L216.3,302.8 L211.5,294.3 L207.8,286.8 L205.9,281.1 L207.8,274.5 L211.5,267.8 L214.4,262.2 L212.5,256.5 L214.4,251.8M334.7,123.9 L339.5,122.4 L347.0,123.0 L349.9,124.9 L346.1,127.7 L338.5,128.1ZM360.3,141.9 L365.0,139.1 L367.8,141.9 L366.9,145.7 L369.7,149.5 L371.6,154.2 L372.6,157.0 L366.9,158.0 L364.1,156.1 L366.9,153.2 L364.1,151.3 L365.0,147.6 L362.2,145.7ZM354.6,149.5 L358.4,146.6 L362.2,148.5 L361.2,153.2 L356.5,154.6ZM470.0,118.0 L455.0,114.0 L440.0,113.0 L428.4,115.4 L417.0,114.5 L405.7,116.4 L394.3,120.1 L386.8,125.8 L381.1,133.4 L383.9,137.2 L386.8,141.9 L392.4,142.8 L395.3,145.7 L400.0,139.1 L405.7,131.5 L409.5,125.8 L413.2,129.6 L409.5,137.2 L413.2,142.8 L420.8,141.9 L415.0,144.0 L411.3,145.7 L405.7,150.4 L398.1,152.3 L390.5,150.4 L388.6,145.7 L385.8,152.3 L381.1,155.1 L375.4,158.0 L370.7,159.9 L366.9,161.8 L368.8,165.5 L370.7,170.3 L367.8,172.2 L358.4,172.2 L355.5,174.0 L355.5,180.7 L354.6,186.3 L358.4,188.2 L361.2,191.1 L365.9,189.2 L371.6,184.5 L374.5,179.7 L379.2,176.9 L384.9,177.8 L388.6,180.7 L392.4,179.7 L396.2,184.5 L400.9,188.2 L402.8,185.4 L399.1,180.7 L397.2,176.9 L400.9,177.8 L404.7,182.6 L409.5,188.2 L411.3,193.0 L414.2,189.2 L417.0,184.5 L420.8,183.5 L424.6,188.2 L432.2,190.1 L438.8,189.2 L441.6,191.1 L440.7,197.7 L439.7,205.3M425.0,171.7 L429.2,165.8 L436.7,164.2 L440.0,166.7 L443.3,164.2 L444.2,169.2 L449.2,174.2 L445.0,177.5 L436.7,178.3 L428.3,178.3 L424.2,175.8ZM459.2,168.3 L463.3,165.0 L470.0,165.8 L468.3,170.0 L470.0,175.0 L473.3,180.0 L470.0,183.3 L465.8,181.7 L464.2,176.7 L460.8,172.5ZM478.3,166.7 L481.7,165.0 L485.0,167.5 L483.3,171.7 L479.2,171.7ZM470.0,118.0 L480.0,121.0 L492.0,117.0 L505.0,119.0 L520.0,113.0 L535.0,111.0 L548.0,106.0 L560.0,108.0 L575.0,110.0 L590.0,112.0 L606.0,114.0 L620.0,116.0 L634.0,120.0 L646.0,124.0 L655.0,128.0M361.2,192.0 L367.8,193.9 L377.3,193.0 L386.8,192.0 L392.4,191.1 L394.3,195.8 L400.0,199.6 L407.6,202.5 L413.2,200.6 L418.9,202.5 L428.4,203.4 L435.9,202.5 L437.5,205.0 L439.5,209.0 L442.5,215.0 L448.8,226.3 L455.0,236.3 L460.0,243.8 L462.5,246.8 L468.3,247.0 L476.3,247.0 L473.3,255.0 L467.0,265.0 L458.3,275.0 L453.3,285.0 L454.5,300.0 L452.0,312.5 L443.3,322.5 L439.5,335.0 L432.0,345.0 L422.0,351.3 L412.0,352.8 L408.3,350.0 L404.5,337.5 L400.8,325.0 L397.0,312.5 L399.5,300.0 L397.0,287.5 L392.0,273.8 L389.5,265.0 L386.0,259.5 L382.0,257.5 L376.0,258.5 L371.8,260.0 L361.0,261.3 L353.5,258.8 L347.3,252.5 L341.0,245.0 L338.5,237.5 L339.0,230.0 L341.0,222.0 L346.0,215.0 L349.8,210.0 L356.0,202.5 L361.2,195.0 L361.2,192.0M439.7,205.3 L440.5,203.5 L442.3,207.0 L445.5,214.0 L452.5,225.3 L458.8,236.5 L462.5,243.8 L464.5,245.0 L471.5,240.0 L481.5,233.8 L489.0,226.3 L492.8,218.8 L487.8,213.8 L482.8,212.5 L479.0,216.3 L474.0,213.8 L469.0,205.0 L465.3,200.0 L470.3,201.3 L476.5,207.5 L482.8,211.3 L494.0,213.8 L501.5,216.3 L509.0,218.8 L515.0,224.2 L517.5,222.5 L519.2,228.3 L521.7,236.7 L525.0,245.0 L529.2,252.5 L532.5,257.5 L534.2,250.0 L534.2,243.3 L535.0,236.7 L540.0,230.8 L546.7,225.0 L552.5,221.7 L555.8,222.5 L560.0,228.3 L563.3,235.0 L567.5,234.2 L570.0,239.2 L572.5,245.8 L573.3,251.7 L576.7,257.5 L580.8,265.0 L585.8,273.3 L588.8,278.8 L590.1,281.2 L587.2,273.6 L584.4,266.1 L579.6,257.6 L575.9,250.0 L574.9,245.3 L577.8,243.4 L582.5,246.2 L586.3,251.9 L591.0,249.1 L593.8,243.4 L592.9,235.8 L589.1,232.0 L585.3,230.1 L587.2,226.4 L591.9,223.5 L596.7,222.6 L603.5,219.6 L608.2,215.8 L611.1,210.1 L610.1,204.5 L607.3,199.7 L604.5,194.1 L607.3,190.3 L604.5,186.5 L598.8,185.5 L596.9,181.8 L600.7,178.9 L605.4,181.8 L609.2,185.5 L613.9,187.4 L616.8,192.2 L620.5,190.3 L616.8,185.5 L613.0,181.8 L613.9,177.0 L617.7,173.2 L620.5,168.5 L623.4,162.8 L621.5,158.1 L618.6,151.5 L614.9,148.6 L605.4,147.7 L607.3,140.1 L616.8,138.2 L622.4,141.1 L625.3,134.5 L631.9,132.6 L635.7,136.4 L635.7,142.0 L638.5,145.8 L643.2,151.5 L648.0,155.3 L648.9,149.6 L647.0,143.9 L641.3,141.1 L643.2,134.5 L648.9,130.7 L655.0,128.0M436.0,272.5 L439.0,271.5 L442.0,273.5 L441.5,277.5 L438.0,278.8 L436.0,276.0ZM459.5,330.0 L459.0,320.0 L463.3,308.5 L469.0,302.3 L473.5,303.0 L474.0,310.0 L470.5,320.0 L465.8,329.5 L462.0,332.5ZM534.5,250.5 L537.0,251.5 L537.5,256.0 L535.5,258.5 L533.8,255.5ZM618.6,149.6 L624.3,157.2 L629.1,164.7 L632.8,169.5 L630.0,166.6 L625.3,160.9 L620.5,153.4ZM632.8,169.5 L637.6,170.4 L641.3,173.2 L637.6,175.1 L633.8,174.2ZM634.7,176.1 L637.6,179.9 L640.4,184.6 L642.3,190.3 L638.5,193.1 L634.7,194.1 L630.0,191.2 L626.2,193.1 L627.5,190.0 L633.8,188.4 L635.7,183.7 L633.8,178.9ZM613.0,215.8 L614.9,214.9 L615.2,218.6 L613.3,220.5ZM592.0,225.0 L595.0,224.5 L596.0,228.5 L593.0,230.0ZM566.4,260.4 L573.0,262.3 L578.7,269.9 L584.4,277.4 L589.1,284.0 L588.2,287.8 L582.5,283.1 L575.9,275.5 L570.2,268.0ZM590.1,287.8 L596.7,286.9 L604.2,289.7 L605.6,292.6 L600.5,292.2 L593.8,290.7ZM595.7,270.8 L600.5,266.1 L606.1,261.3 L610.9,257.6 L614.6,260.4 L612.8,266.1 L613.7,271.8 L610.9,276.5 L608.0,282.2 L603.3,281.2 L600.5,278.4 L596.7,276.5ZM616.5,271.8 L623.2,270.8 L624.1,273.6 L620.3,275.5 L622.2,280.3 L623.2,285.0 L620.3,284.1 L619.4,279.3 L617.5,285.0 L615.6,280.3ZM613.7,231.1 L617.5,230.1 L619.4,234.9 L622.2,240.5 L619.4,241.5 L615.6,237.7ZM621.3,254.7 L626.0,250.9 L629.8,253.8 L628.8,259.5 L625.0,259.5ZM640.2,275.5 L644.9,274.6 L646.8,278.4 L650.6,279.3 L654.4,276.5 L662.0,280.3 L669.5,285.9 L674.2,292.6 L678.0,297.3 L672.3,295.4 L667.6,290.7 L662.0,293.5 L657.2,292.6 L654.4,287.8 L649.6,284.1 L644.0,281.2ZM597.5,333.3 L599.2,325.8 L603.3,321.7 L611.7,317.5 L619.2,312.5 L625.0,308.3 L630.0,305.8 L634.2,307.5 L638.3,301.7 L643.3,300.8 L649.2,302.5 L648.3,307.5 L651.7,311.7 L655.8,313.3 L658.3,308.3 L660.8,299.2 L663.3,305.0 L665.0,311.7 L668.3,316.7 L671.7,322.5 L675.0,330.0 L675.8,336.7 L673.3,343.3 L668.3,350.0 L661.7,356.7 L655.0,360.8 L649.2,362.5 L645.0,360.8 L640.8,359.2 L638.3,355.0 L639.2,350.8 L635.8,354.2 L633.3,349.2 L628.3,346.7 L620.8,347.5 L613.3,349.2 L606.7,350.0 L600.8,353.3 L595.8,353.3 L597.5,346.7 L596.7,340.0ZM641.7,368.3 L645.0,365.8 L649.2,366.7 L648.3,370.8 L644.2,373.3 L641.7,371.7ZM675.8,378.3 L685.0,373.3 L695.0,367.5 L701.7,363.3 L706.7,360.8 L705.0,365.0 L698.3,369.2 L688.3,375.0 L680.0,380.8ZM705.0,359.0 L707.5,352.5 L706.0,345.5 L709.5,348.5 L712.5,353.0 L709.0,358.5 L706.5,361.0ZM163.3,443.6 L174.6,441.7 L182.2,440.7 L195.4,439.8 L199.1,436.0 L208.6,437.9 L218.0,437.0 L225.5,438.9 L233.1,436.0 L240.6,437.0 L251.0,436.3 L261.0,435.0 L268.5,435.0 L272.3,432.5 L268.5,430.0 L269.8,425.0 L273.5,420.0 L278.5,415.0 L281.0,422.5 L284.8,430.0 L286.0,437.5 L283.5,442.5 L290.0,443.3 L306.7,445.8 L323.3,445.0 L336.7,440.0 L346.7,435.8 L355.0,433.3 L357.5,431.5 L359.5,433.3 L362.0,431.3 L364.5,433.3 L367.0,431.3 L369.5,433.0 L371.8,432.3 L383.3,430.8 L397.0,430.0 L422.0,428.8 L432.0,428.8 L440.0,425.8 L446.7,424.2 L453.3,421.7 L458.3,423.3 L466.7,425.0 L475.8,425.8 L475.8,430.0 L483.3,429.2 L495.0,425.0 L510.0,423.3 L530.0,421.7 L540.0,423.3 L546.7,422.0 L558.8,423.5 L579.6,422.2 L592.0,425.1 L604.5,429.3 L617.0,433.4 L608.7,439.7 L592.0,445.9 L573.3,450.1M167.1,445.4 L176.5,447.3 L184.1,450.2 L195.4,453.0" fill="none" stroke="#9c0000" stroke-width="1" stroke-linejoin="round"/></g>
<path d="M0,273.2H743M372.3,80V470" stroke="#4a2000" stroke-width="0.95" fill="none"/>
</g>
<path d="M567.8,87.3 L572.4,88.7 L579.1,90.7 L585.8,93.0 L593.0,95.6 L600.5,98.6 L608.1,101.9 L615.9,105.3 L623.0,108.9 L629.8,112.6 L636.2,116.4 L642.4,120.3 L648.4,124.3 L654.2,128.4 L660.0,132.5 L665.6,136.7 L671.1,140.9 L676.4,145.2 L681.5,149.6 L686.4,154.0 L691.0,158.4 L695.4,162.9 L699.4,167.4 L703.4,171.9 L707.2,176.5 L710.8,181.1 L714.0,185.6 L717.1,190.2 L719.9,194.8 L722.5,199.5 L724.9,204.1 L727.0,208.7 L728.8,213.3 L730.4,217.9 L731.8,222.5 L733.0,227.1 L734.2,231.7 L735.4,236.3 L736.3,240.9 L737.2,245.5 L737.9,250.2 L738.4,254.8 L738.9,259.4 L739.2,264.0 L739.5,268.6 L739.5,273.2 L739.5,277.8 L739.2,282.4 L738.9,287.0 L738.4,291.6 L737.9,296.2 L737.2,300.9 L736.3,305.5 L735.4,310.1 L734.2,314.7 L733.0,319.3 L731.8,323.9 L730.4,328.5 L728.8,333.1 L727.0,337.7 L724.9,342.3 L722.5,346.9 L719.9,351.6 L717.1,356.2 L714.0,360.8 L710.8,365.3 L707.2,369.9 L703.4,374.5 L699.4,379.0 L695.4,383.5 L691.0,388.0 L686.4,392.4 L681.5,396.8 L676.4,401.2 L671.1,405.5 L665.6,409.7 L660.0,413.9 L654.2,418.0 L648.4,422.1 L642.4,426.1 L636.2,430.0 L629.8,433.8 L623.0,437.5 L615.9,441.1 L608.1,444.5 L600.5,447.8 L593.0,450.8 L585.8,453.4 L579.1,455.7 L572.4,457.7 L567.8,459.1 L176.8,459.1 L172.2,457.7 L165.5,455.7 L158.8,453.4 L151.6,450.8 L144.1,447.8 L136.5,444.5 L128.7,441.1 L121.6,437.5 L114.8,433.8 L108.4,430.0 L102.2,426.1 L96.2,422.1 L90.4,418.0 L84.6,413.9 L79.0,409.7 L73.5,405.5 L68.2,401.2 L63.1,396.8 L58.2,392.4 L53.6,388.0 L49.2,383.5 L45.2,379.0 L41.2,374.5 L37.4,369.9 L33.8,365.3 L30.6,360.8 L27.5,356.2 L24.7,351.6 L22.1,346.9 L19.7,342.3 L17.6,337.7 L15.8,333.1 L14.2,328.5 L12.8,323.9 L11.6,319.3 L10.4,314.7 L9.2,310.1 L8.3,305.5 L7.4,300.9 L6.7,296.2 L6.2,291.6 L5.7,287.0 L5.4,282.4 L5.1,277.8 L5.1,273.2 L5.1,268.6 L5.4,264.0 L5.7,259.4 L6.2,254.8 L6.7,250.2 L7.4,245.5 L8.3,240.9 L9.2,236.3 L10.4,231.7 L11.6,227.1 L12.8,222.5 L14.2,217.9 L15.8,213.3 L17.6,208.7 L19.7,204.1 L22.1,199.5 L24.7,194.8 L27.5,190.2 L30.6,185.6 L33.8,181.1 L37.4,176.5 L41.2,171.9 L45.2,167.4 L49.2,162.9 L53.6,158.4 L58.2,154.0 L63.1,149.6 L68.2,145.2 L73.5,140.9 L79.0,136.7 L84.6,132.5 L90.4,128.4 L96.2,124.3 L102.2,120.3 L108.4,116.4 L114.8,112.6 L121.6,108.9 L128.7,105.3 L136.5,101.9 L144.1,98.6 L151.6,95.6 L158.8,93.0 L165.5,90.7 L172.2,88.7 L176.8,87.3Z" fill="none" stroke="#140800" stroke-width="1.6"/>
<text x="374.5" y="27" text-anchor="middle" font-family="'Liberation Serif', 'Noto Serif CJK SC', serif" font-size="24" fill="#222" textLength="533" lengthAdjust="spacing">1960年-2019年期间平均地表气温的趋势</text>
<g font-family="'Liberation Sans', sans-serif" font-size="15.2" fill="#111"><rect x="133.00" y="477.60" width="43.85" height="12.40" fill="#7f00ff"/><rect x="176.55" y="477.60" width="43.85" height="12.40" fill="#3e8ff0"/><rect x="220.09" y="477.60" width="43.85" height="12.40" fill="#72c4fc"/><rect x="263.64" y="477.60" width="43.85" height="12.40" fill="#a2e6ff"/><rect x="307.18" y="477.60" width="43.85" height="12.40" fill="#dcfedc"/><rect x="350.73" y="477.60" width="43.85" height="12.40" fill="#fefefe"/><rect x="394.27" y="477.60" width="43.85" height="12.40" fill="#fcfc52"/><rect x="437.82" y="477.60" width="43.85" height="12.40" fill="#fbc904"/><rect x="481.36" y="477.60" width="43.85" height="12.40" fill="#fa8205"/><rect x="524.91" y="477.60" width="43.85" height="12.40" fill="#fa0608"/><rect x="568.45" y="477.60" width="43.85" height="12.40" fill="#7b0000"/><path d="M176.55,477.60V490.00M220.09,477.60V490.00M263.64,477.60V490.00M307.18,477.60V490.00M350.73,477.60V490.00M394.27,477.60V490.00M437.82,477.60V490.00M481.36,477.60V490.00M524.91,477.60V490.00M568.45,477.60V490.00" stroke="#111" stroke-width="0.9" fill="none"/><rect x="133.00" y="477.60" width="479.00" height="12.40" fill="none" stroke="#111" stroke-width="1"/><text x="133.00" y="507.5" text-anchor="middle" textLength="38.4" lengthAdjust="spacingAndGlyphs">−4.1</text><text x="176.55" y="507.5" text-anchor="middle" textLength="38.4" lengthAdjust="spacingAndGlyphs">−4.0</text><text x="220.09" y="507.5" text-anchor="middle" textLength="38.4" lengthAdjust="spacingAndGlyphs">−2.0</text><text x="263.64" y="507.5" text-anchor="middle" textLength="38.4" lengthAdjust="spacingAndGlyphs">−1.0</text><text x="307.18" y="507.5" text-anchor="middle" textLength="38.4" lengthAdjust="spacingAndGlyphs">−0.5</text><text x="350.73" y="507.5" text-anchor="middle" textLength="38.4" lengthAdjust="spacingAndGlyphs">−0.2</text><text x="394.27" y="507.5" text-anchor="middle" textLength="25.4" lengthAdjust="spacingAndGlyphs">0.2</text><text x="437.82" y="507.5" text-anchor="middle" textLength="25.4" lengthAdjust="spacingAndGlyphs">0.5</text><text x="481.36" y="507.5" text-anchor="middle" textLength="25.4" lengthAdjust="spacingAndGlyphs">1.0</text><text x="524.91" y="507.5" text-anchor="middle" textLength="25.4" lengthAdjust="spacingAndGlyphs">2.0</text><text x="568.45" y="507.5" text-anchor="middle" textLength="25.4" lengthAdjust="spacingAndGlyphs">4.0</text><text x="612.00" y="507.5" text-anchor="middle" textLength="25.4" lengthAdjust="spacingAndGlyphs">4.9</text></g>
<rect x="681" y="518.5" width="46" height="8" rx="2" fill="#ffffff" opacity="0.55"/>
<text x="377" y="534" text-anchor="middle" font-family="'Liberation Serif', 'Noto Serif CJK SC', serif" font-size="16" fill="#222">摄氏度（℃）</text>
</svg>
</body></html>
